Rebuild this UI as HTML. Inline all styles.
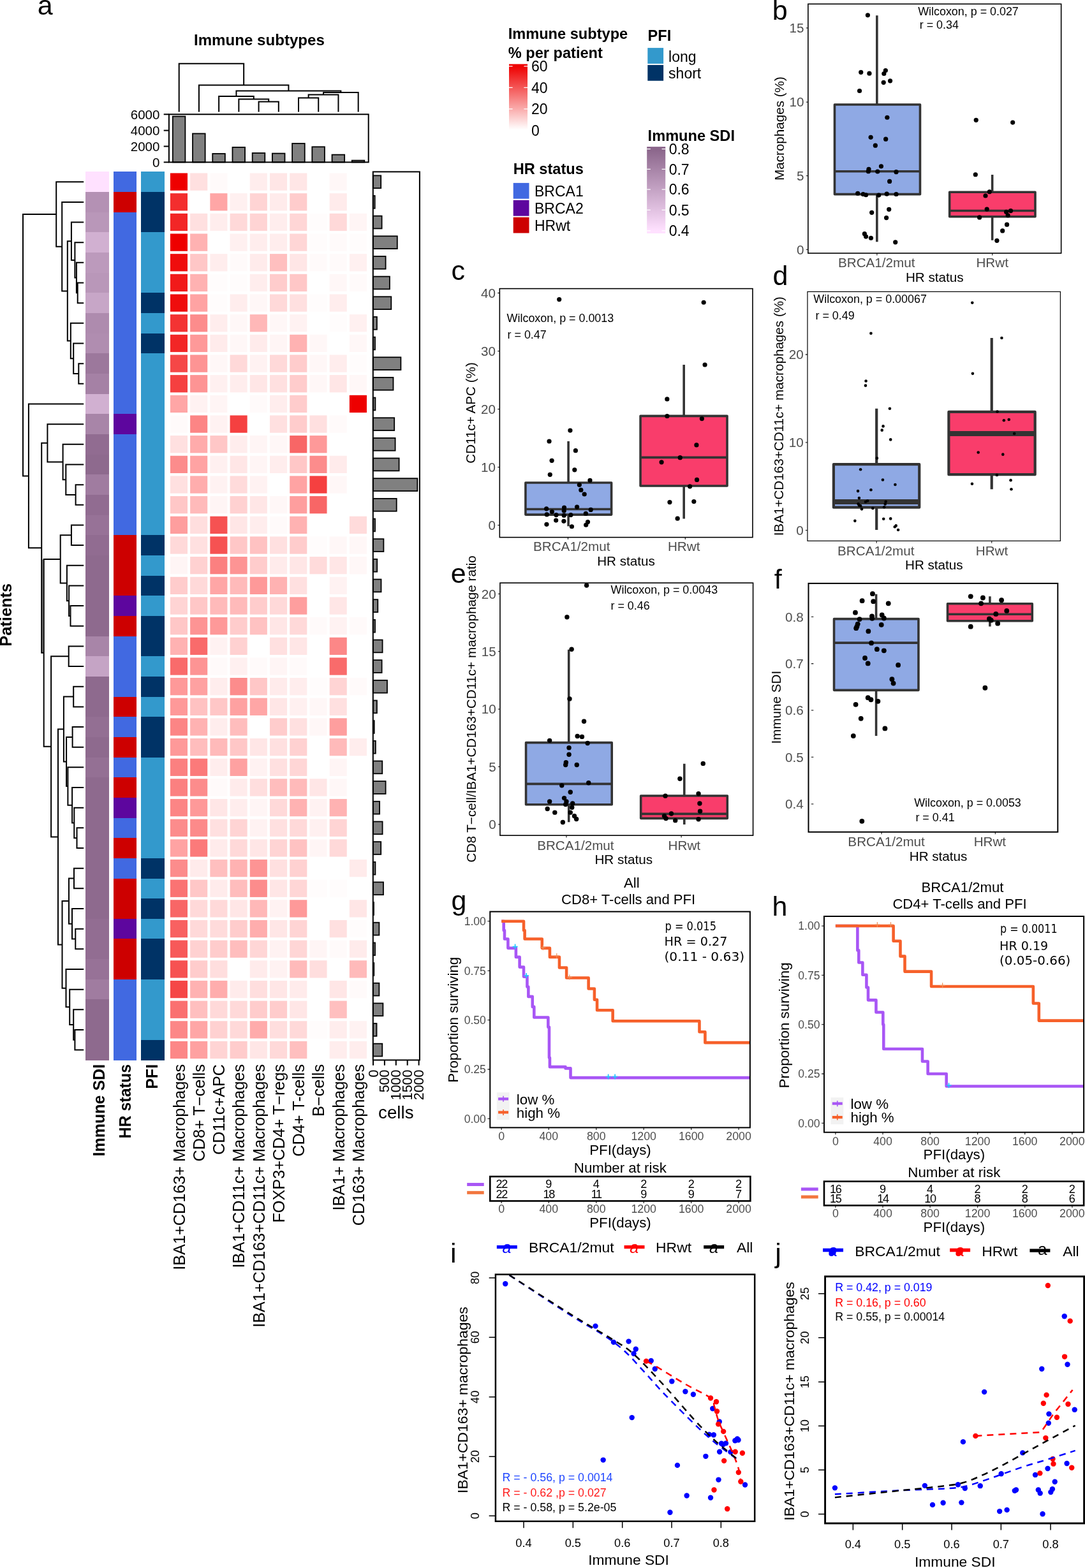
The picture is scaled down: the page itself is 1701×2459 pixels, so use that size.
<!DOCTYPE html>
<html lang="en">
<head>
<meta charset="utf-8">
<title>Immune subtypes figure</title>
<style>
html,body{margin:0;padding:0;background:#fff;}
body{width:1701px;height:2459px;}
svg{display:block;font-family:"Liberation Sans", Arial, Helvetica, sans-serif;}
svg text{white-space:pre;}
svg .dv{font-family:"DejaVu Sans","Liberation Sans",sans-serif;}
</style>
</head>
<body>
<svg width="1701" height="2459" viewBox="0 0 1701 2459">
<rect width="1701" height="2459" fill="#fff"/>
<g id="panel-a">
<text x="58.8" y="23" font-size="43">a</text>
<text x="304" y="71" font-size="24.1" font-weight="bold">Immune subtypes</text>
<text transform="translate(17.7 964.3) rotate(-90)" font-size="25.4" text-anchor="middle" font-weight="bold">Patients</text>
<path d="M405.58 175.6V159.4H436.8V175.6M374.36 175.6V155.4H421.19V159.4M343.14 175.6V151.1H397.77V155.4M468.02 175.6V153.4H499.24V175.6M483.63 153.4V148.4H530.46V175.6M507.05 148.4V144.9H561.68V175.6M370.46 151.1V142.4H534.36V144.9M311.92 175.6V133.6H452.41V142.4M280.7 175.6V99.7H382.16V133.6" fill="none" stroke="#000" stroke-width="2" stroke-linejoin="miter"/>
<rect x="270.8" y="182.5" width="19.6" height="71.9" fill="#808080" stroke="#000" stroke-width="1.8"/>
<rect x="302.02" y="209.5" width="19.6" height="44.9" fill="#808080" stroke="#000" stroke-width="1.8"/>
<rect x="333.24" y="241" width="19.6" height="13.4" fill="#808080" stroke="#000" stroke-width="1.8"/>
<rect x="364.46" y="231" width="19.6" height="23.4" fill="#808080" stroke="#000" stroke-width="1.8"/>
<rect x="395.68" y="240" width="19.6" height="14.4" fill="#808080" stroke="#000" stroke-width="1.8"/>
<rect x="426.9" y="240.6" width="19.6" height="13.8" fill="#808080" stroke="#000" stroke-width="1.8"/>
<rect x="458.12" y="225" width="19.6" height="29.4" fill="#808080" stroke="#000" stroke-width="1.8"/>
<rect x="489.34" y="230.3" width="19.6" height="24.1" fill="#808080" stroke="#000" stroke-width="1.8"/>
<rect x="520.56" y="242.6" width="19.6" height="11.8" fill="#808080" stroke="#000" stroke-width="1.8"/>
<rect x="551.78" y="251.6" width="19.6" height="2.8" fill="#808080" stroke="#000" stroke-width="1.8"/>
<rect x="264.9" y="179.3" width="312.8" height="75.1" fill="none" stroke="#000" stroke-width="2.0"/>
<path d="M256.7 179.3H264.9" stroke="#000" stroke-width="2.0"/>
<text x="250.4" y="187" font-size="20.5" text-anchor="end">6000</text>
<path d="M256.7 204.6H264.9" stroke="#000" stroke-width="2.0"/>
<text x="250.4" y="212.3" font-size="20.5" text-anchor="end">4000</text>
<path d="M256.7 229.5H264.9" stroke="#000" stroke-width="2.0"/>
<text x="250.4" y="237.2" font-size="20.5" text-anchor="end">2000</text>
<path d="M256.7 254.4H264.9" stroke="#000" stroke-width="2.0"/>
<text x="250.4" y="262.1" font-size="20.5" text-anchor="end">0</text>
<g shape-rendering="crispEdges">
<rect x="134.1" y="269.4" width="36.4" height="31.96" fill="#FFE1FF"/>
<rect x="134.1" y="301.06" width="36.4" height="31.96" fill="#B491B4"/>
<rect x="134.1" y="332.72" width="36.4" height="31.96" fill="#B997B9"/>
<rect x="134.1" y="364.38" width="36.4" height="31.96" fill="#D1B0D1"/>
<rect x="134.1" y="396.04" width="36.4" height="31.96" fill="#BC9ABC"/>
<rect x="134.1" y="427.7" width="36.4" height="31.96" fill="#B997B9"/>
<rect x="134.1" y="459.36" width="36.4" height="31.96" fill="#C7A6C7"/>
<rect x="134.1" y="491.02" width="36.4" height="31.96" fill="#AE8BAE"/>
<rect x="134.1" y="522.68" width="36.4" height="31.96" fill="#B08DB0"/>
<rect x="134.1" y="554.34" width="36.4" height="31.96" fill="#9C789C"/>
<rect x="134.1" y="586" width="36.4" height="31.96" fill="#A581A5"/>
<rect x="134.1" y="617.66" width="36.4" height="31.96" fill="#D1B0D1"/>
<rect x="134.1" y="649.32" width="36.4" height="31.96" fill="#A885A8"/>
<rect x="134.1" y="680.98" width="36.4" height="31.96" fill="#916C91"/>
<rect x="134.1" y="712.64" width="36.4" height="31.96" fill="#8E6A8E"/>
<rect x="134.1" y="744.3" width="36.4" height="31.96" fill="#A07CA0"/>
<rect x="134.1" y="775.96" width="36.4" height="31.96" fill="#916C91"/>
<rect x="134.1" y="807.62" width="36.4" height="31.96" fill="#977297"/>
<rect x="134.1" y="839.28" width="36.4" height="31.96" fill="#916C91"/>
<rect x="134.1" y="870.94" width="36.4" height="126.94" fill="#8E6A8E"/>
<rect x="134.1" y="997.58" width="36.4" height="31.96" fill="#A885A8"/>
<rect x="134.1" y="1029.24" width="36.4" height="31.96" fill="#C5A4C5"/>
<rect x="134.1" y="1060.9" width="36.4" height="63.62" fill="#8E6A8E"/>
<rect x="134.1" y="1124.22" width="36.4" height="31.96" fill="#936F93"/>
<rect x="134.1" y="1155.88" width="36.4" height="31.96" fill="#8E6A8E"/>
<rect x="134.1" y="1187.54" width="36.4" height="31.96" fill="#947094"/>
<rect x="134.1" y="1219.2" width="36.4" height="221.92" fill="#8E6A8E"/>
<rect x="134.1" y="1440.82" width="36.4" height="63.62" fill="#926D92"/>
<rect x="134.1" y="1504.14" width="36.4" height="31.96" fill="#977297"/>
<rect x="134.1" y="1535.8" width="36.4" height="31.96" fill="#A07CA0"/>
<rect x="134.1" y="1567.46" width="36.4" height="95.28" fill="#8E6A8E"/>
<rect x="177.5" y="269.4" width="36.8" height="31.96" fill="#4169E1"/>
<rect x="177.5" y="301.06" width="36.8" height="31.96" fill="#CD0000"/>
<rect x="177.5" y="332.72" width="36.8" height="316.9" fill="#4169E1"/>
<rect x="177.5" y="649.32" width="36.8" height="31.96" fill="#5D069E"/>
<rect x="177.5" y="680.98" width="36.8" height="158.6" fill="#4169E1"/>
<rect x="177.5" y="839.28" width="36.8" height="95.28" fill="#CD0000"/>
<rect x="177.5" y="934.26" width="36.8" height="31.96" fill="#5D069E"/>
<rect x="177.5" y="965.92" width="36.8" height="31.96" fill="#CD0000"/>
<rect x="177.5" y="997.58" width="36.8" height="95.28" fill="#4169E1"/>
<rect x="177.5" y="1092.56" width="36.8" height="31.96" fill="#CD0000"/>
<rect x="177.5" y="1124.22" width="36.8" height="31.96" fill="#4169E1"/>
<rect x="177.5" y="1155.88" width="36.8" height="31.96" fill="#CD0000"/>
<rect x="177.5" y="1187.54" width="36.8" height="31.96" fill="#4169E1"/>
<rect x="177.5" y="1219.2" width="36.8" height="31.96" fill="#CD0000"/>
<rect x="177.5" y="1250.86" width="36.8" height="31.96" fill="#5D069E"/>
<rect x="177.5" y="1282.52" width="36.8" height="31.96" fill="#4169E1"/>
<rect x="177.5" y="1314.18" width="36.8" height="31.96" fill="#CD0000"/>
<rect x="177.5" y="1345.84" width="36.8" height="31.96" fill="#4169E1"/>
<rect x="177.5" y="1377.5" width="36.8" height="63.62" fill="#CD0000"/>
<rect x="177.5" y="1440.82" width="36.8" height="31.96" fill="#5D069E"/>
<rect x="177.5" y="1472.48" width="36.8" height="63.62" fill="#CD0000"/>
<rect x="177.5" y="1535.8" width="36.8" height="126.94" fill="#4169E1"/>
<rect x="221" y="269.4" width="36.7" height="31.96" fill="#3399CC"/>
<rect x="221" y="301.06" width="36.7" height="63.62" fill="#003366"/>
<rect x="221" y="364.38" width="36.7" height="95.28" fill="#3399CC"/>
<rect x="221" y="459.36" width="36.7" height="31.96" fill="#003366"/>
<rect x="221" y="491.02" width="36.7" height="31.96" fill="#3399CC"/>
<rect x="221" y="522.68" width="36.7" height="31.96" fill="#003366"/>
<rect x="221" y="554.34" width="36.7" height="285.24" fill="#3399CC"/>
<rect x="221" y="839.28" width="36.7" height="31.96" fill="#003366"/>
<rect x="221" y="870.94" width="36.7" height="31.96" fill="#3399CC"/>
<rect x="221" y="902.6" width="36.7" height="31.96" fill="#003366"/>
<rect x="221" y="934.26" width="36.7" height="31.96" fill="#3399CC"/>
<rect x="221" y="965.92" width="36.7" height="63.62" fill="#003366"/>
<rect x="221" y="1029.24" width="36.7" height="31.96" fill="#3399CC"/>
<rect x="221" y="1060.9" width="36.7" height="31.96" fill="#003366"/>
<rect x="221" y="1092.56" width="36.7" height="31.96" fill="#3399CC"/>
<rect x="221" y="1124.22" width="36.7" height="63.62" fill="#003366"/>
<rect x="221" y="1187.54" width="36.7" height="158.6" fill="#3399CC"/>
<rect x="221" y="1345.84" width="36.7" height="31.96" fill="#003366"/>
<rect x="221" y="1377.5" width="36.7" height="31.96" fill="#3399CC"/>
<rect x="221" y="1409.16" width="36.7" height="31.96" fill="#003366"/>
<rect x="221" y="1440.82" width="36.7" height="31.96" fill="#3399CC"/>
<rect x="221" y="1472.48" width="36.7" height="63.62" fill="#003366"/>
<rect x="221" y="1535.8" width="36.7" height="95.28" fill="#3399CC"/>
<rect x="221" y="1630.78" width="36.7" height="31.96" fill="#003366"/>
</g>
<g>
<rect x="266.9" y="271.5" width="27.1" height="27.3" fill="#EE0000"/>
<rect x="298.12" y="271.5" width="27.1" height="27.3" fill="#FFE0E0"/>
<rect x="329.34" y="271.5" width="27.1" height="27.3" fill="#FFFAFA"/>
<rect x="391.78" y="271.5" width="27.1" height="27.3" fill="#FFEDED"/>
<rect x="423" y="271.5" width="27.1" height="27.3" fill="#FFE6E6"/>
<rect x="454.22" y="271.5" width="27.1" height="27.3" fill="#FFE6E6"/>
<rect x="516.66" y="271.5" width="27.1" height="27.3" fill="#FFF7F7"/>
<rect x="266.9" y="303.16" width="27.1" height="27.3" fill="#F32E2E"/>
<rect x="329.34" y="303.16" width="27.1" height="27.3" fill="#FFA6A6"/>
<rect x="360.56" y="303.16" width="27.1" height="27.3" fill="#FFF0F0"/>
<rect x="391.78" y="303.16" width="27.1" height="27.3" fill="#FFD4D4"/>
<rect x="423" y="303.16" width="27.1" height="27.3" fill="#FFEBEB"/>
<rect x="454.22" y="303.16" width="27.1" height="27.3" fill="#FFCCCC"/>
<rect x="516.66" y="303.16" width="27.1" height="27.3" fill="#FFEBEB"/>
<rect x="266.9" y="334.82" width="27.1" height="27.3" fill="#F22626"/>
<rect x="298.12" y="334.82" width="27.1" height="27.3" fill="#FFE0E0"/>
<rect x="329.34" y="334.82" width="27.1" height="27.3" fill="#FFEDED"/>
<rect x="360.56" y="334.82" width="27.1" height="27.3" fill="#FFD9D9"/>
<rect x="391.78" y="334.82" width="27.1" height="27.3" fill="#FFD4D4"/>
<rect x="423" y="334.82" width="27.1" height="27.3" fill="#FFEDED"/>
<rect x="454.22" y="334.82" width="27.1" height="27.3" fill="#FFD6D6"/>
<rect x="485.44" y="334.82" width="27.1" height="27.3" fill="#FFFCFC"/>
<rect x="516.66" y="334.82" width="27.1" height="27.3" fill="#FFD9D9"/>
<rect x="547.88" y="334.82" width="27.1" height="27.3" fill="#FFF5F5"/>
<rect x="266.9" y="366.48" width="27.1" height="27.3" fill="#EE0000"/>
<rect x="298.12" y="366.48" width="27.1" height="27.3" fill="#FFB2B2"/>
<rect x="360.56" y="366.48" width="27.1" height="27.3" fill="#FFF0F0"/>
<rect x="391.78" y="366.48" width="27.1" height="27.3" fill="#FFEDED"/>
<rect x="423" y="366.48" width="27.1" height="27.3" fill="#FFEDED"/>
<rect x="454.22" y="366.48" width="27.1" height="27.3" fill="#FFD6D6"/>
<rect x="485.44" y="366.48" width="27.1" height="27.3" fill="#FFFCFC"/>
<rect x="516.66" y="366.48" width="27.1" height="27.3" fill="#FFFAFA"/>
<rect x="547.88" y="366.48" width="27.1" height="27.3" fill="#FFFCFC"/>
<rect x="266.9" y="398.14" width="27.1" height="27.3" fill="#EF0D0D"/>
<rect x="298.12" y="398.14" width="27.1" height="27.3" fill="#FFC7C7"/>
<rect x="329.34" y="398.14" width="27.1" height="27.3" fill="#FFEDED"/>
<rect x="360.56" y="398.14" width="27.1" height="27.3" fill="#FFFAFA"/>
<rect x="391.78" y="398.14" width="27.1" height="27.3" fill="#FFEBEB"/>
<rect x="423" y="398.14" width="27.1" height="27.3" fill="#FFBFBF"/>
<rect x="454.22" y="398.14" width="27.1" height="27.3" fill="#FFE6E6"/>
<rect x="485.44" y="398.14" width="27.1" height="27.3" fill="#FFFAFA"/>
<rect x="516.66" y="398.14" width="27.1" height="27.3" fill="#FFFAFA"/>
<rect x="547.88" y="398.14" width="27.1" height="27.3" fill="#FFF0F0"/>
<rect x="266.9" y="429.8" width="27.1" height="27.3" fill="#F11A1A"/>
<rect x="298.12" y="429.8" width="27.1" height="27.3" fill="#FFB2B2"/>
<rect x="329.34" y="429.8" width="27.1" height="27.3" fill="#FFFCFC"/>
<rect x="360.56" y="429.8" width="27.1" height="27.3" fill="#FFFCFC"/>
<rect x="391.78" y="429.8" width="27.1" height="27.3" fill="#FFEDED"/>
<rect x="423" y="429.8" width="27.1" height="27.3" fill="#FFCCCC"/>
<rect x="454.22" y="429.8" width="27.1" height="27.3" fill="#FFC7C7"/>
<rect x="516.66" y="429.8" width="27.1" height="27.3" fill="#FFF7F7"/>
<rect x="547.88" y="429.8" width="27.1" height="27.3" fill="#FFFAFA"/>
<rect x="266.9" y="461.46" width="27.1" height="27.3" fill="#EF0D0D"/>
<rect x="298.12" y="461.46" width="27.1" height="27.3" fill="#FFA3A3"/>
<rect x="329.34" y="461.46" width="27.1" height="27.3" fill="#FFFCFC"/>
<rect x="360.56" y="461.46" width="27.1" height="27.3" fill="#FFEDED"/>
<rect x="391.78" y="461.46" width="27.1" height="27.3" fill="#FFF7F7"/>
<rect x="423" y="461.46" width="27.1" height="27.3" fill="#FFD9D9"/>
<rect x="454.22" y="461.46" width="27.1" height="27.3" fill="#FFE0E0"/>
<rect x="485.44" y="461.46" width="27.1" height="27.3" fill="#FFFCFC"/>
<rect x="516.66" y="461.46" width="27.1" height="27.3" fill="#FFEDED"/>
<rect x="266.9" y="493.12" width="27.1" height="27.3" fill="#F33333"/>
<rect x="298.12" y="493.12" width="27.1" height="27.3" fill="#FC8C8C"/>
<rect x="329.34" y="493.12" width="27.1" height="27.3" fill="#FFEDED"/>
<rect x="360.56" y="493.12" width="27.1" height="27.3" fill="#FFF7F7"/>
<rect x="391.78" y="493.12" width="27.1" height="27.3" fill="#FFB8B8"/>
<rect x="423" y="493.12" width="27.1" height="27.3" fill="#FFF7F7"/>
<rect x="454.22" y="493.12" width="27.1" height="27.3" fill="#FFF2F2"/>
<rect x="516.66" y="493.12" width="27.1" height="27.3" fill="#FFFCFC"/>
<rect x="547.88" y="493.12" width="27.1" height="27.3" fill="#FFF0F0"/>
<rect x="266.9" y="524.78" width="27.1" height="27.3" fill="#F22626"/>
<rect x="298.12" y="524.78" width="27.1" height="27.3" fill="#FE9999"/>
<rect x="329.34" y="524.78" width="27.1" height="27.3" fill="#FFEBEB"/>
<rect x="360.56" y="524.78" width="27.1" height="27.3" fill="#FFF7F7"/>
<rect x="391.78" y="524.78" width="27.1" height="27.3" fill="#FFEBEB"/>
<rect x="423" y="524.78" width="27.1" height="27.3" fill="#FFF5F5"/>
<rect x="454.22" y="524.78" width="27.1" height="27.3" fill="#FFB2B2"/>
<rect x="485.44" y="524.78" width="27.1" height="27.3" fill="#FFF7F7"/>
<rect x="547.88" y="524.78" width="27.1" height="27.3" fill="#FFF7F7"/>
<rect x="266.9" y="556.44" width="27.1" height="27.3" fill="#F54747"/>
<rect x="298.12" y="556.44" width="27.1" height="27.3" fill="#FD9494"/>
<rect x="329.34" y="556.44" width="27.1" height="27.3" fill="#FFF7F7"/>
<rect x="360.56" y="556.44" width="27.1" height="27.3" fill="#FFD9D9"/>
<rect x="391.78" y="556.44" width="27.1" height="27.3" fill="#FFF2F2"/>
<rect x="423" y="556.44" width="27.1" height="27.3" fill="#FFD9D9"/>
<rect x="454.22" y="556.44" width="27.1" height="27.3" fill="#FFCCCC"/>
<rect x="485.44" y="556.44" width="27.1" height="27.3" fill="#FFF7F7"/>
<rect x="516.66" y="556.44" width="27.1" height="27.3" fill="#FFEDED"/>
<rect x="547.88" y="556.44" width="27.1" height="27.3" fill="#FFFCFC"/>
<rect x="266.9" y="588.1" width="27.1" height="27.3" fill="#F54040"/>
<rect x="298.12" y="588.1" width="27.1" height="27.3" fill="#FD9494"/>
<rect x="329.34" y="588.1" width="27.1" height="27.3" fill="#FFF0F0"/>
<rect x="360.56" y="588.1" width="27.1" height="27.3" fill="#FFEDED"/>
<rect x="391.78" y="588.1" width="27.1" height="27.3" fill="#FFE6E6"/>
<rect x="423" y="588.1" width="27.1" height="27.3" fill="#FFE0E0"/>
<rect x="454.22" y="588.1" width="27.1" height="27.3" fill="#FFCCCC"/>
<rect x="485.44" y="588.1" width="27.1" height="27.3" fill="#FFF7F7"/>
<rect x="516.66" y="588.1" width="27.1" height="27.3" fill="#FFE6E6"/>
<rect x="547.88" y="588.1" width="27.1" height="27.3" fill="#FFF7F7"/>
<rect x="266.9" y="619.76" width="27.1" height="27.3" fill="#FFA6A6"/>
<rect x="298.12" y="619.76" width="27.1" height="27.3" fill="#FFF2F2"/>
<rect x="329.34" y="619.76" width="27.1" height="27.3" fill="#FFF5F5"/>
<rect x="391.78" y="619.76" width="27.1" height="27.3" fill="#FFFAFA"/>
<rect x="423" y="619.76" width="27.1" height="27.3" fill="#FFEDED"/>
<rect x="454.22" y="619.76" width="27.1" height="27.3" fill="#FFCCCC"/>
<rect x="547.88" y="619.76" width="27.1" height="27.3" fill="#EE0000"/>
<rect x="266.9" y="651.42" width="27.1" height="27.3" fill="#FFFAFA"/>
<rect x="298.12" y="651.42" width="27.1" height="27.3" fill="#FC8585"/>
<rect x="329.34" y="651.42" width="27.1" height="27.3" fill="#FFF2F2"/>
<rect x="360.56" y="651.42" width="27.1" height="27.3" fill="#F54040"/>
<rect x="423" y="651.42" width="27.1" height="27.3" fill="#FFE0E0"/>
<rect x="454.22" y="651.42" width="27.1" height="27.3" fill="#FFCCCC"/>
<rect x="485.44" y="651.42" width="27.1" height="27.3" fill="#FFE0E0"/>
<rect x="516.66" y="651.42" width="27.1" height="27.3" fill="#FFFAFA"/>
<rect x="266.9" y="683.08" width="27.1" height="27.3" fill="#FFE0E0"/>
<rect x="298.12" y="683.08" width="27.1" height="27.3" fill="#FFABAB"/>
<rect x="329.34" y="683.08" width="27.1" height="27.3" fill="#FFC7C7"/>
<rect x="360.56" y="683.08" width="27.1" height="27.3" fill="#FFEDED"/>
<rect x="391.78" y="683.08" width="27.1" height="27.3" fill="#FFF5F5"/>
<rect x="423" y="683.08" width="27.1" height="27.3" fill="#FFF7F7"/>
<rect x="454.22" y="683.08" width="27.1" height="27.3" fill="#F86666"/>
<rect x="485.44" y="683.08" width="27.1" height="27.3" fill="#FE9999"/>
<rect x="266.9" y="714.74" width="27.1" height="27.3" fill="#FC8C8C"/>
<rect x="298.12" y="714.74" width="27.1" height="27.3" fill="#FFA3A3"/>
<rect x="329.34" y="714.74" width="27.1" height="27.3" fill="#FFF0F0"/>
<rect x="360.56" y="714.74" width="27.1" height="27.3" fill="#FFE6E6"/>
<rect x="391.78" y="714.74" width="27.1" height="27.3" fill="#FFF5F5"/>
<rect x="423" y="714.74" width="27.1" height="27.3" fill="#FFEDED"/>
<rect x="454.22" y="714.74" width="27.1" height="27.3" fill="#FFC7C7"/>
<rect x="485.44" y="714.74" width="27.1" height="27.3" fill="#FC8C8C"/>
<rect x="516.66" y="714.74" width="27.1" height="27.3" fill="#FFEBEB"/>
<rect x="266.9" y="746.4" width="27.1" height="27.3" fill="#FFE0E0"/>
<rect x="298.12" y="746.4" width="27.1" height="27.3" fill="#FFADAD"/>
<rect x="329.34" y="746.4" width="27.1" height="27.3" fill="#FFF2F2"/>
<rect x="360.56" y="746.4" width="27.1" height="27.3" fill="#FFDBDB"/>
<rect x="391.78" y="746.4" width="27.1" height="27.3" fill="#FFF2F2"/>
<rect x="454.22" y="746.4" width="27.1" height="27.3" fill="#FFA3A3"/>
<rect x="485.44" y="746.4" width="27.1" height="27.3" fill="#F54040"/>
<rect x="516.66" y="746.4" width="27.1" height="27.3" fill="#FFF7F7"/>
<rect x="266.9" y="778.06" width="27.1" height="27.3" fill="#FFC7C7"/>
<rect x="298.12" y="778.06" width="27.1" height="27.3" fill="#FFBABA"/>
<rect x="329.34" y="778.06" width="27.1" height="27.3" fill="#FFF5F5"/>
<rect x="360.56" y="778.06" width="27.1" height="27.3" fill="#FFD1D1"/>
<rect x="391.78" y="778.06" width="27.1" height="27.3" fill="#FFE6E6"/>
<rect x="423" y="778.06" width="27.1" height="27.3" fill="#FFF7F7"/>
<rect x="454.22" y="778.06" width="27.1" height="27.3" fill="#FE9E9E"/>
<rect x="485.44" y="778.06" width="27.1" height="27.3" fill="#F86666"/>
<rect x="266.9" y="809.72" width="27.1" height="27.3" fill="#FE9E9E"/>
<rect x="298.12" y="809.72" width="27.1" height="27.3" fill="#FFDEDE"/>
<rect x="329.34" y="809.72" width="27.1" height="27.3" fill="#F65252"/>
<rect x="360.56" y="809.72" width="27.1" height="27.3" fill="#FFE6E6"/>
<rect x="391.78" y="809.72" width="27.1" height="27.3" fill="#FFEDED"/>
<rect x="423" y="809.72" width="27.1" height="27.3" fill="#FFFAFA"/>
<rect x="454.22" y="809.72" width="27.1" height="27.3" fill="#FFB2B2"/>
<rect x="547.88" y="809.72" width="27.1" height="27.3" fill="#FFDBDB"/>
<rect x="266.9" y="841.38" width="27.1" height="27.3" fill="#FFD9D9"/>
<rect x="298.12" y="841.38" width="27.1" height="27.3" fill="#FFE0E0"/>
<rect x="329.34" y="841.38" width="27.1" height="27.3" fill="#F65252"/>
<rect x="360.56" y="841.38" width="27.1" height="27.3" fill="#FFC7C7"/>
<rect x="391.78" y="841.38" width="27.1" height="27.3" fill="#FFC2C2"/>
<rect x="423" y="841.38" width="27.1" height="27.3" fill="#FFE0E0"/>
<rect x="454.22" y="841.38" width="27.1" height="27.3" fill="#FFCCCC"/>
<rect x="485.44" y="841.38" width="27.1" height="27.3" fill="#FFFCFC"/>
<rect x="516.66" y="841.38" width="27.1" height="27.3" fill="#FFF7F7"/>
<rect x="547.88" y="841.38" width="27.1" height="27.3" fill="#FFF7F7"/>
<rect x="266.9" y="873.04" width="27.1" height="27.3" fill="#FFF5F5"/>
<rect x="298.12" y="873.04" width="27.1" height="27.3" fill="#FFD1D1"/>
<rect x="329.34" y="873.04" width="27.1" height="27.3" fill="#FB8080"/>
<rect x="360.56" y="873.04" width="27.1" height="27.3" fill="#FD9494"/>
<rect x="391.78" y="873.04" width="27.1" height="27.3" fill="#FFCCCC"/>
<rect x="423" y="873.04" width="27.1" height="27.3" fill="#FFEBEB"/>
<rect x="454.22" y="873.04" width="27.1" height="27.3" fill="#FFE6E6"/>
<rect x="485.44" y="873.04" width="27.1" height="27.3" fill="#FFDBDB"/>
<rect x="516.66" y="873.04" width="27.1" height="27.3" fill="#FFE6E6"/>
<rect x="547.88" y="873.04" width="27.1" height="27.3" fill="#FFF7F7"/>
<rect x="266.9" y="904.7" width="27.1" height="27.3" fill="#FFCCCC"/>
<rect x="298.12" y="904.7" width="27.1" height="27.3" fill="#FFD9D9"/>
<rect x="329.34" y="904.7" width="27.1" height="27.3" fill="#FFA6A6"/>
<rect x="360.56" y="904.7" width="27.1" height="27.3" fill="#FFBABA"/>
<rect x="391.78" y="904.7" width="27.1" height="27.3" fill="#FE9999"/>
<rect x="423" y="904.7" width="27.1" height="27.3" fill="#FFB2B2"/>
<rect x="454.22" y="904.7" width="27.1" height="27.3" fill="#FFE0E0"/>
<rect x="516.66" y="904.7" width="27.1" height="27.3" fill="#FFF2F2"/>
<rect x="266.9" y="936.36" width="27.1" height="27.3" fill="#FFD4D4"/>
<rect x="298.12" y="936.36" width="27.1" height="27.3" fill="#FFC7C7"/>
<rect x="329.34" y="936.36" width="27.1" height="27.3" fill="#FFBABA"/>
<rect x="360.56" y="936.36" width="27.1" height="27.3" fill="#FFBABA"/>
<rect x="391.78" y="936.36" width="27.1" height="27.3" fill="#FFCCCC"/>
<rect x="423" y="936.36" width="27.1" height="27.3" fill="#FFD9D9"/>
<rect x="454.22" y="936.36" width="27.1" height="27.3" fill="#FE9E9E"/>
<rect x="516.66" y="936.36" width="27.1" height="27.3" fill="#FFE6E6"/>
<rect x="266.9" y="968.02" width="27.1" height="27.3" fill="#FFC7C7"/>
<rect x="298.12" y="968.02" width="27.1" height="27.3" fill="#FD9494"/>
<rect x="329.34" y="968.02" width="27.1" height="27.3" fill="#FE9999"/>
<rect x="360.56" y="968.02" width="27.1" height="27.3" fill="#FFCCCC"/>
<rect x="391.78" y="968.02" width="27.1" height="27.3" fill="#FFC2C2"/>
<rect x="423" y="968.02" width="27.1" height="27.3" fill="#FFE6E6"/>
<rect x="454.22" y="968.02" width="27.1" height="27.3" fill="#FFD9D9"/>
<rect x="485.44" y="968.02" width="27.1" height="27.3" fill="#FFFAFA"/>
<rect x="516.66" y="968.02" width="27.1" height="27.3" fill="#FFF2F2"/>
<rect x="547.88" y="968.02" width="27.1" height="27.3" fill="#FFFAFA"/>
<rect x="266.9" y="999.68" width="27.1" height="27.3" fill="#FFB2B2"/>
<rect x="298.12" y="999.68" width="27.1" height="27.3" fill="#F96B6B"/>
<rect x="329.34" y="999.68" width="27.1" height="27.3" fill="#FFF2F2"/>
<rect x="360.56" y="999.68" width="27.1" height="27.3" fill="#FFD1D1"/>
<rect x="423" y="999.68" width="27.1" height="27.3" fill="#FFE0E0"/>
<rect x="454.22" y="999.68" width="27.1" height="27.3" fill="#FFE6E6"/>
<rect x="516.66" y="999.68" width="27.1" height="27.3" fill="#FC8787"/>
<rect x="266.9" y="1031.34" width="27.1" height="27.3" fill="#F96B6B"/>
<rect x="298.12" y="1031.34" width="27.1" height="27.3" fill="#FD9494"/>
<rect x="329.34" y="1031.34" width="27.1" height="27.3" fill="#FFFAFA"/>
<rect x="360.56" y="1031.34" width="27.1" height="27.3" fill="#FFF0F0"/>
<rect x="391.78" y="1031.34" width="27.1" height="27.3" fill="#FFFAFA"/>
<rect x="423" y="1031.34" width="27.1" height="27.3" fill="#FFF5F5"/>
<rect x="454.22" y="1031.34" width="27.1" height="27.3" fill="#FFFAFA"/>
<rect x="516.66" y="1031.34" width="27.1" height="27.3" fill="#F96B6B"/>
<rect x="266.9" y="1063" width="27.1" height="27.3" fill="#FE9999"/>
<rect x="298.12" y="1063" width="27.1" height="27.3" fill="#FEA1A1"/>
<rect x="329.34" y="1063" width="27.1" height="27.3" fill="#FFEDED"/>
<rect x="360.56" y="1063" width="27.1" height="27.3" fill="#FC8C8C"/>
<rect x="391.78" y="1063" width="27.1" height="27.3" fill="#FFC7C7"/>
<rect x="423" y="1063" width="27.1" height="27.3" fill="#FFEBEB"/>
<rect x="454.22" y="1063" width="27.1" height="27.3" fill="#FFEDED"/>
<rect x="485.44" y="1063" width="27.1" height="27.3" fill="#FFFCFC"/>
<rect x="516.66" y="1063" width="27.1" height="27.3" fill="#FFD4D4"/>
<rect x="547.88" y="1063" width="27.1" height="27.3" fill="#FFFAFA"/>
<rect x="266.9" y="1094.66" width="27.1" height="27.3" fill="#FE9999"/>
<rect x="298.12" y="1094.66" width="27.1" height="27.3" fill="#FFC2C2"/>
<rect x="329.34" y="1094.66" width="27.1" height="27.3" fill="#FFC7C7"/>
<rect x="360.56" y="1094.66" width="27.1" height="27.3" fill="#FEA1A1"/>
<rect x="391.78" y="1094.66" width="27.1" height="27.3" fill="#FFA6A6"/>
<rect x="423" y="1094.66" width="27.1" height="27.3" fill="#FFE6E6"/>
<rect x="454.22" y="1094.66" width="27.1" height="27.3" fill="#FFF0F0"/>
<rect x="485.44" y="1094.66" width="27.1" height="27.3" fill="#FFF7F7"/>
<rect x="516.66" y="1094.66" width="27.1" height="27.3" fill="#FFE0E0"/>
<rect x="266.9" y="1126.32" width="27.1" height="27.3" fill="#FC8585"/>
<rect x="298.12" y="1126.32" width="27.1" height="27.3" fill="#FFB2B2"/>
<rect x="329.34" y="1126.32" width="27.1" height="27.3" fill="#FFEDED"/>
<rect x="360.56" y="1126.32" width="27.1" height="27.3" fill="#FFBDBD"/>
<rect x="423" y="1126.32" width="27.1" height="27.3" fill="#FFCCCC"/>
<rect x="454.22" y="1126.32" width="27.1" height="27.3" fill="#FFE0E0"/>
<rect x="485.44" y="1126.32" width="27.1" height="27.3" fill="#FFF7F7"/>
<rect x="516.66" y="1126.32" width="27.1" height="27.3" fill="#FE9E9E"/>
<rect x="266.9" y="1157.98" width="27.1" height="27.3" fill="#FE9999"/>
<rect x="298.12" y="1157.98" width="27.1" height="27.3" fill="#FFBDBD"/>
<rect x="329.34" y="1157.98" width="27.1" height="27.3" fill="#FFBABA"/>
<rect x="360.56" y="1157.98" width="27.1" height="27.3" fill="#FFC7C7"/>
<rect x="391.78" y="1157.98" width="27.1" height="27.3" fill="#FFE6E6"/>
<rect x="423" y="1157.98" width="27.1" height="27.3" fill="#FFE0E0"/>
<rect x="454.22" y="1157.98" width="27.1" height="27.3" fill="#FFD1D1"/>
<rect x="516.66" y="1157.98" width="27.1" height="27.3" fill="#FFBABA"/>
<rect x="547.88" y="1157.98" width="27.1" height="27.3" fill="#FFEDED"/>
<rect x="266.9" y="1189.64" width="27.1" height="27.3" fill="#FB8080"/>
<rect x="298.12" y="1189.64" width="27.1" height="27.3" fill="#FB7A7A"/>
<rect x="329.34" y="1189.64" width="27.1" height="27.3" fill="#FFEDED"/>
<rect x="360.56" y="1189.64" width="27.1" height="27.3" fill="#FEA1A1"/>
<rect x="391.78" y="1189.64" width="27.1" height="27.3" fill="#FFF2F2"/>
<rect x="423" y="1189.64" width="27.1" height="27.3" fill="#FFE0E0"/>
<rect x="454.22" y="1189.64" width="27.1" height="27.3" fill="#FFD6D6"/>
<rect x="516.66" y="1189.64" width="27.1" height="27.3" fill="#FFF5F5"/>
<rect x="266.9" y="1221.3" width="27.1" height="27.3" fill="#FB8080"/>
<rect x="298.12" y="1221.3" width="27.1" height="27.3" fill="#FC8C8C"/>
<rect x="329.34" y="1221.3" width="27.1" height="27.3" fill="#FFFAFA"/>
<rect x="360.56" y="1221.3" width="27.1" height="27.3" fill="#FFEBEB"/>
<rect x="391.78" y="1221.3" width="27.1" height="27.3" fill="#FFDEDE"/>
<rect x="423" y="1221.3" width="27.1" height="27.3" fill="#FFBDBD"/>
<rect x="454.22" y="1221.3" width="27.1" height="27.3" fill="#FFBABA"/>
<rect x="485.44" y="1221.3" width="27.1" height="27.3" fill="#FFE6E6"/>
<rect x="516.66" y="1221.3" width="27.1" height="27.3" fill="#FFF7F7"/>
<rect x="266.9" y="1252.96" width="27.1" height="27.3" fill="#FC8585"/>
<rect x="298.12" y="1252.96" width="27.1" height="27.3" fill="#FE9999"/>
<rect x="329.34" y="1252.96" width="27.1" height="27.3" fill="#FFE6E6"/>
<rect x="360.56" y="1252.96" width="27.1" height="27.3" fill="#FFEDED"/>
<rect x="391.78" y="1252.96" width="27.1" height="27.3" fill="#FFF5F5"/>
<rect x="423" y="1252.96" width="27.1" height="27.3" fill="#FFD9D9"/>
<rect x="454.22" y="1252.96" width="27.1" height="27.3" fill="#FFB2B2"/>
<rect x="485.44" y="1252.96" width="27.1" height="27.3" fill="#FFF2F2"/>
<rect x="516.66" y="1252.96" width="27.1" height="27.3" fill="#FFB2B2"/>
<rect x="266.9" y="1284.62" width="27.1" height="27.3" fill="#FC8C8C"/>
<rect x="298.12" y="1284.62" width="27.1" height="27.3" fill="#FC8A8A"/>
<rect x="329.34" y="1284.62" width="27.1" height="27.3" fill="#FFE0E0"/>
<rect x="360.56" y="1284.62" width="27.1" height="27.3" fill="#FFD4D4"/>
<rect x="391.78" y="1284.62" width="27.1" height="27.3" fill="#FFF2F2"/>
<rect x="423" y="1284.62" width="27.1" height="27.3" fill="#FFE0E0"/>
<rect x="454.22" y="1284.62" width="27.1" height="27.3" fill="#FFD9D9"/>
<rect x="485.44" y="1284.62" width="27.1" height="27.3" fill="#FFF0F0"/>
<rect x="516.66" y="1284.62" width="27.1" height="27.3" fill="#FFD4D4"/>
<rect x="266.9" y="1316.28" width="27.1" height="27.3" fill="#FFA3A3"/>
<rect x="298.12" y="1316.28" width="27.1" height="27.3" fill="#FB7A7A"/>
<rect x="329.34" y="1316.28" width="27.1" height="27.3" fill="#FFEBEB"/>
<rect x="360.56" y="1316.28" width="27.1" height="27.3" fill="#FFD9D9"/>
<rect x="391.78" y="1316.28" width="27.1" height="27.3" fill="#FFE6E6"/>
<rect x="423" y="1316.28" width="27.1" height="27.3" fill="#FFD4D4"/>
<rect x="454.22" y="1316.28" width="27.1" height="27.3" fill="#FFC2C2"/>
<rect x="485.44" y="1316.28" width="27.1" height="27.3" fill="#FFF5F5"/>
<rect x="516.66" y="1316.28" width="27.1" height="27.3" fill="#FFD9D9"/>
<rect x="266.9" y="1347.94" width="27.1" height="27.3" fill="#FC8C8C"/>
<rect x="298.12" y="1347.94" width="27.1" height="27.3" fill="#FFEBEB"/>
<rect x="329.34" y="1347.94" width="27.1" height="27.3" fill="#FFBFBF"/>
<rect x="360.56" y="1347.94" width="27.1" height="27.3" fill="#FFB2B2"/>
<rect x="391.78" y="1347.94" width="27.1" height="27.3" fill="#FD9494"/>
<rect x="423" y="1347.94" width="27.1" height="27.3" fill="#FFE0E0"/>
<rect x="454.22" y="1347.94" width="27.1" height="27.3" fill="#FFD1D1"/>
<rect x="547.88" y="1347.94" width="27.1" height="27.3" fill="#FFEBEB"/>
<rect x="266.9" y="1379.6" width="27.1" height="27.3" fill="#FA7373"/>
<rect x="298.12" y="1379.6" width="27.1" height="27.3" fill="#FFC7C7"/>
<rect x="329.34" y="1379.6" width="27.1" height="27.3" fill="#FFEBEB"/>
<rect x="360.56" y="1379.6" width="27.1" height="27.3" fill="#FFBDBD"/>
<rect x="391.78" y="1379.6" width="27.1" height="27.3" fill="#FC8C8C"/>
<rect x="423" y="1379.6" width="27.1" height="27.3" fill="#FFE6E6"/>
<rect x="454.22" y="1379.6" width="27.1" height="27.3" fill="#FFD6D6"/>
<rect x="485.44" y="1379.6" width="27.1" height="27.3" fill="#FFFCFC"/>
<rect x="516.66" y="1379.6" width="27.1" height="27.3" fill="#FFFCFC"/>
<rect x="266.9" y="1411.26" width="27.1" height="27.3" fill="#F86666"/>
<rect x="298.12" y="1411.26" width="27.1" height="27.3" fill="#FFD9D9"/>
<rect x="329.34" y="1411.26" width="27.1" height="27.3" fill="#FFD9D9"/>
<rect x="360.56" y="1411.26" width="27.1" height="27.3" fill="#FFE6E6"/>
<rect x="391.78" y="1411.26" width="27.1" height="27.3" fill="#FFB8B8"/>
<rect x="423" y="1411.26" width="27.1" height="27.3" fill="#FFF2F2"/>
<rect x="454.22" y="1411.26" width="27.1" height="27.3" fill="#FE9999"/>
<rect x="547.88" y="1411.26" width="27.1" height="27.3" fill="#FFE6E6"/>
<rect x="266.9" y="1442.92" width="27.1" height="27.3" fill="#F86161"/>
<rect x="298.12" y="1442.92" width="27.1" height="27.3" fill="#FFD9D9"/>
<rect x="329.34" y="1442.92" width="27.1" height="27.3" fill="#FFDBDB"/>
<rect x="360.56" y="1442.92" width="27.1" height="27.3" fill="#FFCCCC"/>
<rect x="391.78" y="1442.92" width="27.1" height="27.3" fill="#FFADAD"/>
<rect x="423" y="1442.92" width="27.1" height="27.3" fill="#FFE6E6"/>
<rect x="454.22" y="1442.92" width="27.1" height="27.3" fill="#FFD4D4"/>
<rect x="516.66" y="1442.92" width="27.1" height="27.3" fill="#FFE0E0"/>
<rect x="547.88" y="1442.92" width="27.1" height="27.3" fill="#FFFCFC"/>
<rect x="266.9" y="1474.58" width="27.1" height="27.3" fill="#F75959"/>
<rect x="298.12" y="1474.58" width="27.1" height="27.3" fill="#FFD1D1"/>
<rect x="329.34" y="1474.58" width="27.1" height="27.3" fill="#FFCCCC"/>
<rect x="360.56" y="1474.58" width="27.1" height="27.3" fill="#FFBDBD"/>
<rect x="391.78" y="1474.58" width="27.1" height="27.3" fill="#FFD6D6"/>
<rect x="423" y="1474.58" width="27.1" height="27.3" fill="#FFF2F2"/>
<rect x="454.22" y="1474.58" width="27.1" height="27.3" fill="#FFD6D6"/>
<rect x="485.44" y="1474.58" width="27.1" height="27.3" fill="#FFF5F5"/>
<rect x="516.66" y="1474.58" width="27.1" height="27.3" fill="#FFFAFA"/>
<rect x="547.88" y="1474.58" width="27.1" height="27.3" fill="#FFEBEB"/>
<rect x="266.9" y="1506.24" width="27.1" height="27.3" fill="#F65252"/>
<rect x="298.12" y="1506.24" width="27.1" height="27.3" fill="#FFCCCC"/>
<rect x="329.34" y="1506.24" width="27.1" height="27.3" fill="#FFDEDE"/>
<rect x="391.78" y="1506.24" width="27.1" height="27.3" fill="#FFEBEB"/>
<rect x="423" y="1506.24" width="27.1" height="27.3" fill="#FFF2F2"/>
<rect x="454.22" y="1506.24" width="27.1" height="27.3" fill="#FFBABA"/>
<rect x="485.44" y="1506.24" width="27.1" height="27.3" fill="#FFDEDE"/>
<rect x="547.88" y="1506.24" width="27.1" height="27.3" fill="#FFBABA"/>
<rect x="266.9" y="1537.9" width="27.1" height="27.3" fill="#F54747"/>
<rect x="298.12" y="1537.9" width="27.1" height="27.3" fill="#FFB2B2"/>
<rect x="329.34" y="1537.9" width="27.1" height="27.3" fill="#FFADAD"/>
<rect x="360.56" y="1537.9" width="27.1" height="27.3" fill="#FFEBEB"/>
<rect x="391.78" y="1537.9" width="27.1" height="27.3" fill="#FFDEDE"/>
<rect x="423" y="1537.9" width="27.1" height="27.3" fill="#FFE6E6"/>
<rect x="454.22" y="1537.9" width="27.1" height="27.3" fill="#FFEBEB"/>
<rect x="516.66" y="1537.9" width="27.1" height="27.3" fill="#FFE6E6"/>
<rect x="547.88" y="1537.9" width="27.1" height="27.3" fill="#FFFAFA"/>
<rect x="266.9" y="1569.56" width="27.1" height="27.3" fill="#FA7070"/>
<rect x="298.12" y="1569.56" width="27.1" height="27.3" fill="#FFBFBF"/>
<rect x="329.34" y="1569.56" width="27.1" height="27.3" fill="#FFD9D9"/>
<rect x="360.56" y="1569.56" width="27.1" height="27.3" fill="#FFD9D9"/>
<rect x="391.78" y="1569.56" width="27.1" height="27.3" fill="#FFCCCC"/>
<rect x="423" y="1569.56" width="27.1" height="27.3" fill="#FFCCCC"/>
<rect x="454.22" y="1569.56" width="27.1" height="27.3" fill="#FFE6E6"/>
<rect x="516.66" y="1569.56" width="27.1" height="27.3" fill="#FFBFBF"/>
<rect x="266.9" y="1601.22" width="27.1" height="27.3" fill="#FC8787"/>
<rect x="298.12" y="1601.22" width="27.1" height="27.3" fill="#FFA6A6"/>
<rect x="329.34" y="1601.22" width="27.1" height="27.3" fill="#FFD1D1"/>
<rect x="360.56" y="1601.22" width="27.1" height="27.3" fill="#FFD9D9"/>
<rect x="391.78" y="1601.22" width="27.1" height="27.3" fill="#FFABAB"/>
<rect x="423" y="1601.22" width="27.1" height="27.3" fill="#FFDEDE"/>
<rect x="454.22" y="1601.22" width="27.1" height="27.3" fill="#FFD9D9"/>
<rect x="485.44" y="1601.22" width="27.1" height="27.3" fill="#FFFCFC"/>
<rect x="516.66" y="1601.22" width="27.1" height="27.3" fill="#FFEDED"/>
<rect x="547.88" y="1601.22" width="27.1" height="27.3" fill="#FFF2F2"/>
<rect x="266.9" y="1632.88" width="27.1" height="27.3" fill="#FC8787"/>
<rect x="298.12" y="1632.88" width="27.1" height="27.3" fill="#FEA1A1"/>
<rect x="329.34" y="1632.88" width="27.1" height="27.3" fill="#FFD4D4"/>
<rect x="360.56" y="1632.88" width="27.1" height="27.3" fill="#FFCCCC"/>
<rect x="391.78" y="1632.88" width="27.1" height="27.3" fill="#FFE6E6"/>
<rect x="423" y="1632.88" width="27.1" height="27.3" fill="#FFD9D9"/>
<rect x="454.22" y="1632.88" width="27.1" height="27.3" fill="#FFBFBF"/>
<rect x="516.66" y="1632.88" width="27.1" height="27.3" fill="#FFEDED"/>
<rect x="547.88" y="1632.88" width="27.1" height="27.3" fill="#FFEDED"/>
</g>
<rect x="584.8" y="275.33" width="12.4" height="19.8" fill="#808080" stroke="#000" stroke-width="1.8"/>
<rect x="584.8" y="306.99" width="2.9" height="19.8" fill="#808080" stroke="#000" stroke-width="1.8"/>
<rect x="584.8" y="338.65" width="13.8" height="19.8" fill="#808080" stroke="#000" stroke-width="1.8"/>
<rect x="584.8" y="370.31" width="38" height="19.8" fill="#808080" stroke="#000" stroke-width="1.8"/>
<rect x="584.8" y="401.97" width="19.8" height="19.8" fill="#808080" stroke="#000" stroke-width="1.8"/>
<rect x="584.8" y="433.63" width="26.1" height="19.8" fill="#808080" stroke="#000" stroke-width="1.8"/>
<rect x="584.8" y="465.29" width="28.5" height="19.8" fill="#808080" stroke="#000" stroke-width="1.8"/>
<rect x="584.8" y="496.95" width="6.1" height="19.8" fill="#808080" stroke="#000" stroke-width="1.8"/>
<rect x="584.8" y="528.61" width="3.2" height="19.8" fill="#808080" stroke="#000" stroke-width="1.8"/>
<rect x="584.8" y="560.27" width="43.6" height="19.8" fill="#808080" stroke="#000" stroke-width="1.8"/>
<rect x="584.8" y="591.93" width="31.7" height="19.8" fill="#808080" stroke="#000" stroke-width="1.8"/>
<rect x="584.8" y="623.59" width="3.6" height="19.8" fill="#808080" stroke="#000" stroke-width="1.8"/>
<rect x="584.8" y="655.25" width="33.4" height="19.8" fill="#808080" stroke="#000" stroke-width="1.8"/>
<rect x="584.8" y="686.91" width="34.8" height="19.8" fill="#808080" stroke="#000" stroke-width="1.8"/>
<rect x="584.8" y="718.57" width="40.8" height="19.8" fill="#808080" stroke="#000" stroke-width="1.8"/>
<rect x="584.8" y="750.23" width="69.6" height="19.8" fill="#808080" stroke="#000" stroke-width="1.8"/>
<rect x="584.8" y="781.89" width="36.9" height="19.8" fill="#808080" stroke="#000" stroke-width="1.8"/>
<rect x="584.8" y="813.55" width="3.2" height="19.8" fill="#808080" stroke="#000" stroke-width="1.8"/>
<rect x="584.8" y="845.21" width="16.6" height="19.8" fill="#808080" stroke="#000" stroke-width="1.8"/>
<rect x="584.8" y="876.87" width="6.4" height="19.8" fill="#808080" stroke="#000" stroke-width="1.8"/>
<rect x="584.8" y="908.53" width="12.7" height="19.8" fill="#808080" stroke="#000" stroke-width="1.8"/>
<rect x="584.8" y="940.19" width="7.5" height="19.8" fill="#808080" stroke="#000" stroke-width="1.8"/>
<rect x="584.8" y="971.85" width="3.2" height="19.8" fill="#808080" stroke="#000" stroke-width="1.8"/>
<rect x="584.8" y="1003.51" width="14.8" height="19.8" fill="#808080" stroke="#000" stroke-width="1.8"/>
<rect x="584.8" y="1035.17" width="13.8" height="19.8" fill="#808080" stroke="#000" stroke-width="1.8"/>
<rect x="584.8" y="1066.83" width="22.2" height="19.8" fill="#808080" stroke="#000" stroke-width="1.8"/>
<rect x="584.8" y="1098.49" width="6.1" height="19.8" fill="#808080" stroke="#000" stroke-width="1.8"/>
<rect x="584.8" y="1130.15" width="1.9" height="19.8" fill="#808080" stroke="#000" stroke-width="1.8"/>
<rect x="584.8" y="1161.81" width="4" height="19.8" fill="#808080" stroke="#000" stroke-width="1.8"/>
<rect x="584.8" y="1193.47" width="14.5" height="19.8" fill="#808080" stroke="#000" stroke-width="1.8"/>
<rect x="584.8" y="1225.13" width="19.8" height="19.8" fill="#808080" stroke="#000" stroke-width="1.8"/>
<rect x="584.8" y="1256.79" width="10.3" height="19.8" fill="#808080" stroke="#000" stroke-width="1.8"/>
<rect x="584.8" y="1288.45" width="14.8" height="19.8" fill="#808080" stroke="#000" stroke-width="1.8"/>
<rect x="584.8" y="1320.11" width="12.4" height="19.8" fill="#808080" stroke="#000" stroke-width="1.8"/>
<rect x="584.8" y="1351.77" width="3.6" height="19.8" fill="#808080" stroke="#000" stroke-width="1.8"/>
<rect x="584.8" y="1383.43" width="16.2" height="19.8" fill="#808080" stroke="#000" stroke-width="1.8"/>
<rect x="584.8" y="1415.09" width="1.2" height="19.8" fill="#808080" stroke="#000" stroke-width="1.8"/>
<rect x="584.8" y="1446.75" width="9.6" height="19.8" fill="#808080" stroke="#000" stroke-width="1.8"/>
<rect x="584.8" y="1478.41" width="3.2" height="19.8" fill="#808080" stroke="#000" stroke-width="1.8"/>
<rect x="584.8" y="1510.07" width="1.5" height="19.8" fill="#808080" stroke="#000" stroke-width="1.8"/>
<rect x="584.8" y="1541.73" width="9.6" height="19.8" fill="#808080" stroke="#000" stroke-width="1.8"/>
<rect x="584.8" y="1573.39" width="15.6" height="19.8" fill="#808080" stroke="#000" stroke-width="1.8"/>
<rect x="584.8" y="1605.05" width="5.7" height="19.8" fill="#808080" stroke="#000" stroke-width="1.8"/>
<rect x="584.8" y="1636.71" width="14.5" height="19.8" fill="#808080" stroke="#000" stroke-width="1.8"/>
<rect x="584.8" y="269.4" width="73.1" height="1393.04" fill="none" stroke="#000" stroke-width="2.0"/>
<path d="M585 1662.44V1670.74" stroke="#000" stroke-width="2.0"/>
<text transform="translate(592.5 1677.6) rotate(-90)" font-size="21.4" text-anchor="end">0</text>
<path d="M602.9 1662.44V1670.74" stroke="#000" stroke-width="2.0"/>
<text transform="translate(610.4 1677.6) rotate(-90)" font-size="21.4" text-anchor="end">500</text>
<path d="M620.8 1662.44V1670.74" stroke="#000" stroke-width="2.0"/>
<text transform="translate(628.3 1677.6) rotate(-90)" font-size="21.4" text-anchor="end">1000</text>
<path d="M638.7 1662.44V1670.74" stroke="#000" stroke-width="2.0"/>
<text transform="translate(646.2 1677.6) rotate(-90)" font-size="21.4" text-anchor="end">1500</text>
<path d="M656.6 1662.44V1670.74" stroke="#000" stroke-width="2.0"/>
<text transform="translate(664.1 1677.6) rotate(-90)" font-size="21.4" text-anchor="end">2000</text>
<text x="620.8" y="1753.9" font-size="27.7" text-anchor="middle">cells</text>
<path d="M66.95 877.5V1023.3" stroke="#8a8a8a" stroke-width="1.9"/>
<path d="M88.2 335.94H36V746.42H44.9M131.2 285.23H88.2V386.64H97.2M131.2 316.89H97.2V456.39H105.8M111.9 378.23H105.8V534.55H110.8M131.2 348.55H111.9V407.91H117.4M131.2 380.21H117.4V435.62H119.9M131.2 411.87H119.9V459.36H121.7M131.2 443.53H121.7V475.19H131.2M131.2 506.85H110.8V562.25H115.2M131.2 538.51H115.2V586H123.3M131.2 570.17H123.3V601.83H131.2M131.2 633.49H44.9V859.35H65.2M74.4 694.83H65.2V1023.86H68.7M131.2 665.15H74.4V724.51H98.6M131.2 696.81H98.6V752.22H103.3M131.2 728.47H103.3V775.96H118.6M131.2 760.13H118.6V791.79H131.2M94.7 876.88H68.7V1170.84H80.1M111.9 839.28H94.7V914.47H104.9M131.2 823.45H111.9V855.11H131.2M131.2 886.77H104.9V942.17H108.1M131.2 918.43H108.1V965.92H110.5M131.2 950.09H110.5V981.75H131.2M107.7 1029.24H80.1V1312.45H91M131.2 1013.41H107.7V1045.07H131.2M99.9 1143.51H91V1481.38H97.5M115.2 1092.56H99.9V1194.47H104.1M131.2 1076.73H115.2V1108.39H131.2M113.6 1155.88H104.1V1233.05H106.4M131.2 1140.05H113.6V1171.71H131.2M131.2 1203.37H106.4V1262.73H113.1M131.2 1235.03H113.1V1290.43H116.3M131.2 1266.69H116.3V1314.18H120.5M131.2 1298.35H120.5V1330.01H131.2M108 1413.12H97.5V1549.65H103.5M116 1377.5H108V1448.73H113M131.2 1361.67H116V1393.33H131.2M131.2 1424.99H113V1472.48H118.3M131.2 1456.65H118.3V1488.31H131.2M131.2 1519.97H103.5V1579.33H109.2M131.2 1551.63H109.2V1607.03H115.2M131.2 1583.29H115.2V1630.78H117.4M131.2 1614.95H117.4V1646.61H131.2" fill="none" stroke="#000" stroke-width="2.0" stroke-linejoin="miter"/>
<text transform="translate(163.9 1668.9) rotate(-90)" font-size="25" text-anchor="end" font-weight="bold">Immune SDI</text>
<text transform="translate(205.2 1668.9) rotate(-90)" font-size="25" text-anchor="end" font-weight="bold">HR status</text>
<text transform="translate(246.6 1668.9) rotate(-90)" font-size="25" text-anchor="end" font-weight="bold">PFI</text>
<text transform="translate(289.8 1668.9) rotate(-90)" font-size="25.25" text-anchor="end">IBA1+CD163+ Macrophages</text>
<text transform="translate(321.02 1668.9) rotate(-90)" font-size="25.25" text-anchor="end">CD8+ T−cells</text>
<text transform="translate(352.24 1668.9) rotate(-90)" font-size="25.25" text-anchor="end">CD11c+APC</text>
<text transform="translate(383.46 1668.9) rotate(-90)" font-size="25.25" text-anchor="end">IBA1+CD11c+ Macrophages</text>
<text transform="translate(414.68 1668.9) rotate(-90)" font-size="25.25" text-anchor="end">IBA1+CD163+CD11c+ Macrophages</text>
<text transform="translate(445.9 1668.9) rotate(-90)" font-size="25.25" text-anchor="end">FOXP3+CD4+ T−regs</text>
<text transform="translate(477.12 1668.9) rotate(-90)" font-size="25.25" text-anchor="end">CD4+ T-cells</text>
<text transform="translate(508.34 1668.9) rotate(-90)" font-size="25.25" text-anchor="end">B−cells</text>
<text transform="translate(539.56 1668.9) rotate(-90)" font-size="25.25" text-anchor="end">IBA1+ Macrophages</text>
<text transform="translate(570.78 1668.9) rotate(-90)" font-size="25.25" text-anchor="end">CD163+ Macrophages</text>
</g>
<g id="legends">
<defs><linearGradient id="gr" x1="0" y1="0" x2="0" y2="1"><stop offset="0" stop-color="#EE0000"/><stop offset="0.03" stop-color="#EE0000"/><stop offset="1" stop-color="#FFFFFF"/></linearGradient><linearGradient id="gp" x1="0" y1="0" x2="0" y2="1"><stop offset="0" stop-color="#8B668B"/><stop offset="0.03" stop-color="#8B668B"/><stop offset="0.97" stop-color="#FFE1FF"/><stop offset="1" stop-color="#FFE1FF"/></linearGradient></defs>
<text x="796.7" y="61.3" font-size="23.6" font-weight="bold">Immune subtype</text>
<text x="796.7" y="91.2" font-size="23.6" font-weight="bold">% per patient</text>
<rect x="798" y="100.5" width="29" height="103" fill="url(#gr)"/>
<path d="M798 103.8h5.6M821.4 103.8h5.6" stroke="#fff" stroke-width="1.3"/>
<text x="833" y="112.4" font-size="23">60</text>
<path d="M798 137.4h5.6M821.4 137.4h5.6" stroke="#fff" stroke-width="1.3"/>
<text x="833" y="146" font-size="23">40</text>
<path d="M798 170.8h5.6M821.4 170.8h5.6" stroke="#fff" stroke-width="1.3"/>
<text x="833" y="179.4" font-size="23">20</text>
<path d="M798 204.4h5.6M821.4 204.4h5.6" stroke="#fff" stroke-width="1.3"/>
<text x="833" y="213" font-size="23">0</text>
<text x="804.7" y="273.1" font-size="23.6" font-weight="bold">HR status</text>
<rect x="804.7" y="286.9" width="24.8" height="24.8" fill="#4169E1"/>
<text x="838" y="308.2" font-size="23">BRCA1</text>
<rect x="804.7" y="313.9" width="24.8" height="24.8" fill="#5D069E"/>
<text x="838" y="335.2" font-size="23">BRCA2</text>
<rect x="804.7" y="340.7" width="24.8" height="24.8" fill="#CD0000"/>
<text x="838" y="362" font-size="23">HRwt</text>
<text x="1015.6" y="64.2" font-size="23.6" font-weight="bold">PFI</text>
<rect x="1015.3" y="75.1" width="24.8" height="24.8" fill="#3399CC"/>
<text x="1048.1" y="96.6" font-size="23">long</text>
<rect x="1015.3" y="101.9" width="24.8" height="24.8" fill="#003366"/>
<text x="1048.1" y="123.4" font-size="23">short</text>
<text x="1015.6" y="221" font-size="23.6" font-weight="bold">Immune SDI</text>
<rect x="1014.2" y="230.1" width="29" height="135.9" fill="url(#gp)"/>
<path d="M1014.2 233.7h5.6M1037.6 233.7h5.6" stroke="#fff" stroke-width="1.3"/>
<text x="1048.7" y="242" font-size="23">0.8</text>
<path d="M1014.2 265.4h5.6M1037.6 265.4h5.6" stroke="#fff" stroke-width="1.3"/>
<text x="1048.7" y="273.7" font-size="23">0.7</text>
<path d="M1014.2 297.1h5.6M1037.6 297.1h5.6" stroke="#fff" stroke-width="1.3"/>
<text x="1048.7" y="305.4" font-size="23">0.6</text>
<path d="M1014.2 329.4h5.6M1037.6 329.4h5.6" stroke="#fff" stroke-width="1.3"/>
<text x="1048.7" y="337.7" font-size="23">0.5</text>
<path d="M1014.2 361.9h5.6M1037.6 361.9h5.6" stroke="#fff" stroke-width="1.3"/>
<text x="1048.7" y="370.2" font-size="23">0.4</text>
</g>
<g id="panel-b">
<text x="1210.7" y="31" font-size="43">b</text>
<text x="1260.58" y="51.25" font-size="20.65" text-anchor="end" fill="#4D4D4D">15</text>
<text x="1260.58" y="167.39" font-size="20.65" text-anchor="end" fill="#4D4D4D">10</text>
<text x="1260.58" y="282.91" font-size="20.65" text-anchor="end" fill="#4D4D4D">5</text>
<text x="1260.58" y="398.75" font-size="20.65" text-anchor="end" fill="#4D4D4D">0</text>
<path d="M1263.72 43.95H1266.86M1263.72 160.09H1266.86M1263.72 275.61H1266.86M1263.72 391.45H1266.86M1374.85 397.1V400.55M1555.66 397.1V400.55" stroke="#333" stroke-width="1.3" fill="none"/>
<text x="1374.22" y="419.04" font-size="20.65" text-anchor="middle" fill="#4D4D4D">BRCA1/2mut</text>
<text x="1555.66" y="419.04" font-size="20.65" text-anchor="middle" fill="#4D4D4D">HRwt</text>
<text x="1465.25" y="441.64" font-size="20.65" text-anchor="middle">HR status</text>
<text transform="translate(1229.19 201.53) rotate(-90)" font-size="20.65" text-anchor="middle">Macrophages (%)</text>
<path d="M1374.85 24.17V163.23M1374.85 305.43V379.2" stroke="#333" stroke-width="3.6" fill="none"/>
<rect x="1308.47" y="164.03" width="134.01" height="140.6" fill="#8FA9E4" stroke="#333" stroke-width="3.6" stroke-linejoin="round"/>
<path d="M1309.47 268.71H1441.48" stroke="#333" stroke-width="3.6"/>
<path d="M1555.66 274.04V300.41M1555.66 340.59V376.69" stroke="#333" stroke-width="3.6" fill="none"/>
<rect x="1488.66" y="301.21" width="134.32" height="38.58" fill="#F93D6B" stroke="#333" stroke-width="3.6" stroke-linejoin="round"/>
<path d="M1489.66 330.55H1621.98" stroke="#333" stroke-width="3.6"/>
<g fill="#000"><circle cx="1360.41" cy="23.86" r="3.6"/><circle cx="1349.73" cy="113.32" r="3.6"/><circle cx="1362.92" cy="115.2" r="3.6"/><circle cx="1388.35" cy="110.5" r="3.6"/><circle cx="1385.83" cy="115.52" r="3.6"/><circle cx="1385.21" cy="129.33" r="3.6"/><circle cx="1395.57" cy="126.82" r="3.6"/><circle cx="1347.54" cy="142.52" r="3.6"/><circle cx="1390.86" cy="184.27" r="3.6"/><circle cx="1365.12" cy="215.34" r="3.6"/><circle cx="1388.66" cy="218.17" r="3.6"/><circle cx="1372.34" cy="228.21" r="3.6"/><circle cx="1381.44" cy="260.86" r="3.6"/><circle cx="1361.98" cy="265.25" r="3.6"/><circle cx="1361.35" cy="268.71" r="3.6"/><circle cx="1375.79" cy="269.02" r="3.6"/><circle cx="1404.98" cy="269.65" r="3.6"/><circle cx="1394.62" cy="284.4" r="3.6"/><circle cx="1344.71" cy="303.24" r="3.6"/><circle cx="1353.19" cy="304.49" r="3.6"/><circle cx="1357.58" cy="305.75" r="3.6"/><circle cx="1377.67" cy="306.06" r="3.6"/><circle cx="1390.23" cy="304.18" r="3.6"/><circle cx="1404.98" cy="304.49" r="3.6"/><circle cx="1393.68" cy="328.35" r="3.6"/><circle cx="1366.69" cy="333.37" r="3.6"/><circle cx="1389.6" cy="341.53" r="3.6"/><circle cx="1355.39" cy="366.65" r="3.6"/><circle cx="1357.58" cy="371.04" r="3.6"/><circle cx="1365.43" cy="373.24" r="3.6"/><circle cx="1403.73" cy="379.83" r="3.6"/><circle cx="1530.23" cy="188.35" r="3.6"/><circle cx="1587.68" cy="192.11" r="3.6"/><circle cx="1529.29" cy="273.73" r="3.6"/><circle cx="1551.27" cy="300.73" r="3.6"/><circle cx="1544.99" cy="307" r="3.6"/><circle cx="1547.18" cy="328.04" r="3.6"/><circle cx="1535.57" cy="340.91" r="3.6"/><circle cx="1577.63" cy="332.43" r="3.6"/><circle cx="1584.54" cy="330.55" r="3.6"/><circle cx="1580.14" cy="337.77" r="3.6"/><circle cx="1578.58" cy="352.21" r="3.6"/><circle cx="1571.67" cy="361.94" r="3.6"/><circle cx="1562.88" cy="377.32" r="3.6"/></g>
<rect x="1266.86" y="6.28" width="396.78" height="390.82" fill="none" stroke="#000" stroke-width="1.6"/>
<text x="1439.2" y="23.94" font-size="17.9">Wilcoxon, p = 0.027</text>
<text x="1441.71" y="44.98" font-size="17.9">r = 0.34</text>
</g>
<g id="panel-c">
<text x="707.4" y="439" font-size="43">c</text>
<text x="777.07" y="466.82" font-size="20.65" text-anchor="end" fill="#4D4D4D">40</text>
<text x="777.07" y="557.99" font-size="20.65" text-anchor="end" fill="#4D4D4D">30</text>
<text x="777.07" y="648.84" font-size="20.65" text-anchor="end" fill="#4D4D4D">20</text>
<text x="777.07" y="740.01" font-size="20.65" text-anchor="end" fill="#4D4D4D">10</text>
<text x="777.07" y="830.86" font-size="20.65" text-anchor="end" fill="#4D4D4D">0</text>
<path d="M780.2 459.52H783.33M780.2 550.69H783.33M780.2 641.54H783.33M780.2 732.71H783.33M780.2 823.56H783.33M890.48 842.67V846.12M1074.37 842.67V846.12" stroke="#333" stroke-width="1.3" fill="none"/>
<text x="896.27" y="864.26" font-size="20.65" text-anchor="middle" fill="#4D4D4D">BRCA1/2mut</text>
<text x="1072.18" y="864.26" font-size="20.65" text-anchor="middle" fill="#4D4D4D">HRwt</text>
<text x="981.48" y="886.82" font-size="20.65" text-anchor="middle">HR status</text>
<text transform="translate(745.43 647.49) rotate(-90)" font-size="20.65" text-anchor="middle">CD11c+ APC (%)</text>
<path d="M891.1 691.98V756.2M891.1 807.89V825.13" stroke="#333" stroke-width="3.6" fill="none"/>
<rect x="823.92" y="757" width="134.68" height="50.09" fill="#8FA9E4" stroke="#333" stroke-width="3.6" stroke-linejoin="round"/>
<path d="M824.92 798.5H957.6" stroke="#333" stroke-width="3.6"/>
<path d="M1072.18 571.99V651.57M1072.18 762.78V813.53" stroke="#333" stroke-width="3.6" fill="none"/>
<rect x="1004.06" y="652.37" width="135.93" height="109.62" fill="#F93D6B" stroke="#333" stroke-width="3.6" stroke-linejoin="round"/>
<path d="M1005.06 717.36H1138.99" stroke="#333" stroke-width="3.6"/>
<g fill="#000"><circle cx="876.69" cy="469.55" r="3.6"/><circle cx="893.92" cy="675.06" r="3.6"/><circle cx="861.03" cy="691.98" r="3.6"/><circle cx="902.38" cy="706.7" r="3.6"/><circle cx="865.1" cy="722.37" r="3.6"/><circle cx="900.81" cy="736.78" r="3.6"/><circle cx="862.28" cy="744.3" r="3.6"/><circle cx="924.94" cy="753.38" r="3.6"/><circle cx="908.33" cy="760.28" r="3.6"/><circle cx="910.84" cy="768.42" r="3.6"/><circle cx="916.17" cy="775" r="3.6"/><circle cx="904.57" cy="795.05" r="3.6"/><circle cx="884.52" cy="795.99" r="3.6"/><circle cx="856.64" cy="797.87" r="3.6"/><circle cx="926.19" cy="799.44" r="3.6"/><circle cx="865.41" cy="802.57" r="3.6"/><circle cx="884.21" cy="801" r="3.6"/><circle cx="918.36" cy="805.39" r="3.6"/><circle cx="857.27" cy="806.95" r="3.6"/><circle cx="871.99" cy="807.58" r="3.6"/><circle cx="884.21" cy="808.21" r="3.6"/><circle cx="894.86" cy="807.58" r="3.6"/><circle cx="921.49" cy="818.55" r="3.6"/><circle cx="871.68" cy="816.04" r="3.6"/><circle cx="883.9" cy="817.29" r="3.6"/><circle cx="856.95" cy="822.31" r="3.6"/><circle cx="918.67" cy="823.25" r="3.6"/><circle cx="896.43" cy="825.75" r="3.6"/><circle cx="1103.2" cy="474.25" r="3.6"/><circle cx="1105.08" cy="571.99" r="3.6"/><circle cx="1045.86" cy="625.88" r="3.6"/><circle cx="1045.86" cy="652.51" r="3.6"/><circle cx="1100.38" cy="656.58" r="3.6"/><circle cx="1091.92" cy="697.93" r="3.6"/><circle cx="1066.23" cy="717.67" r="3.6"/><circle cx="1037.09" cy="724.87" r="3.6"/><circle cx="1092.54" cy="752.44" r="3.6"/><circle cx="1081.58" cy="762.78" r="3.6"/><circle cx="1049.94" cy="787.53" r="3.6"/><circle cx="1087.84" cy="786.59" r="3.6"/><circle cx="1062.16" cy="813.22" r="3.6"/></g>
<rect x="783.33" y="452.63" width="396.62" height="390.04" fill="none" stroke="#000" stroke-width="1.6"/>
<text x="794.61" y="505.35" font-size="17.9">Wilcoxon, p = 0.0013</text>
<text x="795.55" y="531.35" font-size="17.9">r = 0.47</text>
</g>
<g id="panel-d">
<text x="1211.6" y="447" font-size="43">d</text>
<text x="1259.64" y="563.31" font-size="20.65" text-anchor="end" fill="#4D4D4D">20</text>
<text x="1259.64" y="701.12" font-size="20.65" text-anchor="end" fill="#4D4D4D">10</text>
<text x="1259.64" y="838.93" font-size="20.65" text-anchor="end" fill="#4D4D4D">0</text>
<path d="M1262.78 556.01H1265.92M1262.78 693.82H1265.92M1262.78 831.63H1265.92M1374.22 848.26V851.72M1554.72 848.26V851.72" stroke="#333" stroke-width="1.3" fill="none"/>
<text x="1373.28" y="870.52" font-size="20.65" text-anchor="middle" fill="#4D4D4D">BRCA1/2mut</text>
<text x="1555.03" y="870.52" font-size="20.65" text-anchor="middle" fill="#4D4D4D">HRwt</text>
<text x="1464.31" y="892.81" font-size="20.65" text-anchor="middle">HR status</text>
<text transform="translate(1228.25 652.7) rotate(-90)" font-size="20.65" text-anchor="middle">IBA1+CD163+CD11c+ macrophages (%)</text>
<path d="M1374.22 640.77V727.09M1374.22 796.78V831" stroke="#333" stroke-width="4.2" fill="none"/>
<rect x="1306.89" y="728.19" width="134.35" height="67.49" fill="#8FA9E4" stroke="#333" stroke-width="4.2" stroke-linejoin="round"/>
<path d="M1307.89 787.05H1440.24" stroke="#333" stroke-width="8"/>
<path d="M1554.72 529.96V644.85M1554.72 745.3V767.27" stroke="#333" stroke-width="4.2" fill="none"/>
<rect x="1487.39" y="645.95" width="135.29" height="98.25" fill="#F93D6B" stroke="#333" stroke-width="4.2" stroke-linejoin="round"/>
<path d="M1488.39 680.01H1621.68" stroke="#333" stroke-width="8"/>
<g fill="#000"><circle cx="1365.43" cy="522.74" r="2.3"/><circle cx="1357.58" cy="597.45" r="2.3"/><circle cx="1356.95" cy="604.67" r="2.3"/><circle cx="1394.94" cy="640.77" r="2.3"/><circle cx="1384.58" cy="668.39" r="2.3"/><circle cx="1382.7" cy="674.67" r="2.3"/><circle cx="1396.19" cy="689.42" r="2.3"/><circle cx="1374.85" cy="718.62" r="2.3"/><circle cx="1349.11" cy="736.2" r="2.3"/><circle cx="1383.95" cy="752.52" r="2.3"/><circle cx="1403.41" cy="760.05" r="2.3"/><circle cx="1365.43" cy="768.22" r="2.3"/><circle cx="1345.03" cy="770.1" r="2.3"/><circle cx="1346.91" cy="781.09" r="2.3"/><circle cx="1360.09" cy="785.48" r="2.3"/><circle cx="1356.95" cy="787.05" r="2.3"/><circle cx="1388.66" cy="786.74" r="2.3"/><circle cx="1387.72" cy="790.5" r="2.3"/><circle cx="1345.65" cy="790.19" r="2.3"/><circle cx="1346.91" cy="792.7" r="2.3"/><circle cx="1349.11" cy="793.33" r="2.3"/><circle cx="1386.15" cy="795.21" r="2.3"/><circle cx="1368.26" cy="797.1" r="2.3"/><circle cx="1350.99" cy="798.35" r="2.3"/><circle cx="1340.32" cy="816.87" r="2.3"/><circle cx="1385.21" cy="813.73" r="2.3"/><circle cx="1396.19" cy="813.42" r="2.3"/><circle cx="1404.67" cy="824.41" r="2.3"/><circle cx="1402.79" cy="826.29" r="2.3"/><circle cx="1408.12" cy="831" r="2.3"/><circle cx="1524.27" cy="474.71" r="2.3"/><circle cx="1570.41" cy="529.96" r="2.3"/><circle cx="1524.9" cy="585.83" r="2.3"/><circle cx="1563.51" cy="645.48" r="2.3"/><circle cx="1581.71" cy="658.03" r="2.3"/><circle cx="1573.87" cy="659.29" r="2.3"/><circle cx="1590.19" cy="680.01" r="2.3"/><circle cx="1533.69" cy="709.52" r="2.3"/><circle cx="1572.3" cy="712.65" r="2.3"/><circle cx="1562.88" cy="744.99" r="2.3"/><circle cx="1584.54" cy="753.15" r="2.3"/><circle cx="1523.95" cy="758.8" r="2.3"/><circle cx="1585.48" cy="767.27" r="2.3"/></g>
<rect x="1265.92" y="457.45" width="396.47" height="390.82" fill="none" stroke="#000" stroke-width="1.2"/>
<text x="1275.34" y="475.11" font-size="17.9">Wilcoxon, p = 0.00067</text>
<text x="1278.48" y="500.85" font-size="17.9">r = 0.49</text>
</g>
<g id="panel-e">
<text x="706.8" y="914" font-size="43">e</text>
<text x="777.69" y="938.7" font-size="20.65" text-anchor="end" fill="#4D4D4D">20</text>
<text x="777.69" y="1028.93" font-size="20.65" text-anchor="end" fill="#4D4D4D">15</text>
<text x="777.69" y="1119.47" font-size="20.65" text-anchor="end" fill="#4D4D4D">10</text>
<text x="777.69" y="1209.69" font-size="20.65" text-anchor="end" fill="#4D4D4D">5</text>
<text x="777.69" y="1300.23" font-size="20.65" text-anchor="end" fill="#4D4D4D">0</text>
<path d="M780.83 931.4H783.96M780.83 1021.63H783.96M780.83 1112.17H783.96M780.83 1202.39H783.96M780.83 1292.93H783.96M887.97 1310.16V1313.61M1068.11 1310.16V1313.61" stroke="#333" stroke-width="1.3" fill="none"/>
<text x="902.38" y="1332.69" font-size="20.65" text-anchor="middle" fill="#4D4D4D">BRCA1/2mut</text>
<text x="1072.81" y="1332.69" font-size="20.65" text-anchor="middle" fill="#4D4D4D">HRwt</text>
<text x="977.73" y="1355.25" font-size="20.65" text-anchor="middle">HR status</text>
<text transform="translate(746.05 1111.85) rotate(-90)" font-size="20.65" text-anchor="middle">CD8 T−cell/IBA1+CD163+CD11c+ macrophage ratio</text>
<path d="M891.73 1018.81V1163.86M891.73 1262.54V1289.17" stroke="#333" stroke-width="3.6" fill="none"/>
<rect x="824.55" y="1164.66" width="134.68" height="97.08" fill="#8FA9E4" stroke="#333" stroke-width="3.6" stroke-linejoin="round"/>
<path d="M825.55 1229.34H958.23" stroke="#333" stroke-width="3.6"/>
<path d="M1072.81 1197.69V1247.19M1072.81 1284.16V1292.93" stroke="#333" stroke-width="3.6" fill="none"/>
<rect x="1004.68" y="1247.99" width="135.62" height="35.37" fill="#F93D6B" stroke="#333" stroke-width="3.6" stroke-linejoin="round"/>
<path d="M1005.68 1276.33H1139.3" stroke="#333" stroke-width="3.6"/>
<g fill="#000"><circle cx="919.61" cy="917.93" r="3.7"/><circle cx="888.91" cy="967.74" r="3.7"/><circle cx="896.12" cy="1018.18" r="3.7"/><circle cx="892.98" cy="1095.88" r="3.7"/><circle cx="915.54" cy="1131.28" r="3.7"/><circle cx="905.2" cy="1154.46" r="3.7"/><circle cx="912.41" cy="1155.4" r="3.7"/><circle cx="861.65" cy="1161.35" r="3.7"/><circle cx="921.18" cy="1165.43" r="3.7"/><circle cx="892.04" cy="1172.63" r="3.7"/><circle cx="892.04" cy="1183.28" r="3.7"/><circle cx="887.34" cy="1195.81" r="3.7"/><circle cx="886.72" cy="1199.57" r="3.7"/><circle cx="904.26" cy="1199.57" r="3.7"/><circle cx="922.74" cy="1227.77" r="3.7"/><circle cx="880.76" cy="1231.84" r="3.7"/><circle cx="894.24" cy="1242.18" r="3.7"/><circle cx="884.52" cy="1251.58" r="3.7"/><circle cx="861.65" cy="1256.9" r="3.7"/><circle cx="887.97" cy="1256.9" r="3.7"/><circle cx="897.68" cy="1260.04" r="3.7"/><circle cx="886.72" cy="1261.6" r="3.7"/><circle cx="896.74" cy="1266.3" r="3.7"/><circle cx="858.21" cy="1268.5" r="3.7"/><circle cx="869.8" cy="1274.14" r="3.7"/><circle cx="894.24" cy="1274.14" r="3.7"/><circle cx="900.5" cy="1279.77" r="3.7"/><circle cx="903.63" cy="1284.47" r="3.7"/><circle cx="882.33" cy="1289.49" r="3.7"/><circle cx="1102.26" cy="1197.38" r="3.7"/><circle cx="1065.91" cy="1221.19" r="3.7"/><circle cx="1095.05" cy="1244.69" r="3.7"/><circle cx="1043.05" cy="1248.13" r="3.7"/><circle cx="1096.93" cy="1260.04" r="3.7"/><circle cx="1097.56" cy="1272.26" r="3.7"/><circle cx="1052.44" cy="1276.02" r="3.7"/><circle cx="1041.48" cy="1279.77" r="3.7"/><circle cx="1043.98" cy="1283.53" r="3.7"/><circle cx="1058.71" cy="1286.67" r="3.7"/><circle cx="1095.05" cy="1284.79" r="3.7"/></g>
<rect x="783.96" y="914.17" width="396.62" height="395.99" fill="none" stroke="#000" stroke-width="1.6"/>
<text x="957.52" y="931.49" font-size="17.9">Wilcoxon, p = 0.0043</text>
<text x="957.52" y="955.61" font-size="17.9">r = 0.46</text>
</g>
<g id="panel-f">
<text x="1213.8" y="923" font-size="43">f</text>
<text x="1259.64" y="974.61" font-size="20.65" text-anchor="end" fill="#4D4D4D">0.8</text>
<text x="1259.64" y="1048.07" font-size="20.65" text-anchor="end" fill="#4D4D4D">0.7</text>
<text x="1259.64" y="1121.21" font-size="20.65" text-anchor="end" fill="#4D4D4D">0.6</text>
<text x="1259.64" y="1194.66" font-size="20.65" text-anchor="end" fill="#4D4D4D">0.5</text>
<text x="1259.64" y="1268.12" font-size="20.65" text-anchor="end" fill="#4D4D4D">0.4</text>
<path d="M1271.89 967.31H1275.34M1271.89 1040.77H1275.34M1271.89 1113.91H1275.34M1271.89 1187.36H1275.34M1271.89 1260.82H1275.34M1382.07 1304.77V1308.22M1560.37 1304.77V1308.22" stroke="#333" stroke-width="1.3" fill="none"/>
<text x="1389.6" y="1327.34" font-size="20.65" text-anchor="middle" fill="#4D4D4D">BRCA1/2mut</text>
<text x="1551.89" y="1327.34" font-size="20.65" text-anchor="middle" fill="#4D4D4D">HRwt</text>
<text x="1471.06" y="1350.25" font-size="20.65" text-anchor="middle">HR status</text>
<text transform="translate(1223.54 1109.2) rotate(-90)" font-size="20.65" text-anchor="middle">Immune SDI</text>
<path d="M1373.59 931.84V969.82M1373.59 1083.14V1154.09" stroke="#333" stroke-width="3.6" fill="none"/>
<rect x="1307.53" y="970.62" width="132.44" height="111.72" fill="#8FA9E4" stroke="#333" stroke-width="3.6" stroke-linejoin="round"/>
<path d="M1308.53 1008.12H1438.97" stroke="#333" stroke-width="3.6"/>
<path d="M1551.89 935.29V945.97M1551.89 974.53V982.38" stroke="#333" stroke-width="3.6" fill="none"/>
<rect x="1485.52" y="946.77" width="132.75" height="26.97" fill="#F93D6B" stroke="#333" stroke-width="3.6" stroke-linejoin="round"/>
<path d="M1486.52 963.23H1617.27" stroke="#333" stroke-width="3.6"/>
<g fill="#000"><circle cx="1367.94" cy="931.21" r="3.9"/><circle cx="1351.62" cy="942.2" r="3.9"/><circle cx="1369.2" cy="943.14" r="3.9"/><circle cx="1392.74" cy="946.28" r="3.9"/><circle cx="1340.95" cy="960.72" r="3.9"/><circle cx="1382.7" cy="964.49" r="3.9"/><circle cx="1367" cy="966.37" r="3.9"/><circle cx="1367.31" cy="969.82" r="3.9"/><circle cx="1385.83" cy="969.51" r="3.9"/><circle cx="1347.54" cy="971.08" r="3.9"/><circle cx="1344.71" cy="978.61" r="3.9"/><circle cx="1343.46" cy="982.38" r="3.9"/><circle cx="1342.2" cy="985.2" r="3.9"/><circle cx="1381.75" cy="979.87" r="3.9"/><circle cx="1361.35" cy="989.91" r="3.9"/><circle cx="1366.06" cy="1008.43" r="3.9"/><circle cx="1374.85" cy="1018.17" r="3.9"/><circle cx="1385.83" cy="1020.36" r="3.9"/><circle cx="1356.01" cy="1031.98" r="3.9"/><circle cx="1360.72" cy="1040.45" r="3.9"/><circle cx="1408.12" cy="1042.96" r="3.9"/><circle cx="1398.39" cy="1065.25" r="3.9"/><circle cx="1400.59" cy="1071.53" r="3.9"/><circle cx="1360.72" cy="1094.13" r="3.9"/><circle cx="1365.43" cy="1097.27" r="3.9"/><circle cx="1376.42" cy="1099.78" r="3.9"/><circle cx="1341.57" cy="1104.8" r="3.9"/><circle cx="1349.73" cy="1126.78" r="3.9"/><circle cx="1387.4" cy="1142.47" r="3.9"/><circle cx="1337.81" cy="1154.09" r="3.9"/><circle cx="1351.3" cy="1287.81" r="3.9"/><circle cx="1521.76" cy="935.29" r="3.9"/><circle cx="1540.91" cy="937.49" r="3.9"/><circle cx="1570.1" cy="941.26" r="3.9"/><circle cx="1538.08" cy="946.28" r="3.9"/><circle cx="1578.26" cy="957.89" r="3.9"/><circle cx="1561.31" cy="962.92" r="3.9"/><circle cx="1550.95" cy="970.45" r="3.9"/><circle cx="1553.78" cy="972.65" r="3.9"/><circle cx="1564.14" cy="977.67" r="3.9"/><circle cx="1521.76" cy="982.69" r="3.9"/><circle cx="1544.36" cy="1078.75" r="3.9"/></g>
<rect x="1267.49" y="914.89" width="390.82" height="389.88" fill="none" stroke="#000" stroke-width="2"/>
<text x="1433.23" y="1264.98" font-size="17.9">Wilcoxon, p = 0.0053</text>
<text x="1435.43" y="1287.9" font-size="17.9">r = 0.41</text>
</g>
<g id="panel-g">
<text x="707.5" y="1427" font-size="43">g</text>
<text x="990.38" y="1391.82" font-size="22.1" text-anchor="middle">All</text>
<text x="985.1" y="1418.02" font-size="22.1" text-anchor="middle">CD8+ T-cells and PFI</text>
<text x="761.9" y="1451.08" font-size="17.6" text-anchor="end" fill="#4D4D4D">1.00</text>
<text x="761.9" y="1528.73" font-size="17.6" text-anchor="end" fill="#4D4D4D">0.75</text>
<text x="761.9" y="1606.06" font-size="17.6" text-anchor="end" fill="#4D4D4D">0.50</text>
<text x="761.9" y="1683.39" font-size="17.6" text-anchor="end" fill="#4D4D4D">0.25</text>
<text x="761.9" y="1760.72" font-size="17.6" text-anchor="end" fill="#4D4D4D">0.00</text>
<text x="786.18" y="1788.16" font-size="17.8" text-anchor="middle" fill="#4D4D4D">0</text>
<text x="860.32" y="1788.16" font-size="17.8" text-anchor="middle" fill="#4D4D4D">400</text>
<text x="934.77" y="1788.16" font-size="17.8" text-anchor="middle" fill="#4D4D4D">800</text>
<text x="1009.23" y="1788.16" font-size="17.8" text-anchor="middle" fill="#4D4D4D">1200</text>
<text x="1083.68" y="1788.16" font-size="17.8" text-anchor="middle" fill="#4D4D4D">1600</text>
<text x="1158.14" y="1788.16" font-size="17.8" text-anchor="middle" fill="#4D4D4D">2000</text>
<path d="M764.45 1444.68H768.29M764.45 1522.33H768.29M764.45 1599.66H768.29M764.45 1676.99H768.29M764.45 1754.32H768.29M786.18 1768.38V1771.98M860.32 1768.38V1771.98M934.77 1768.38V1771.98M1009.23 1768.38V1771.98M1083.68 1768.38V1771.98M1158.14 1768.38V1771.98" stroke="#333" stroke-width="1.3" fill="none"/>
<text x="972.48" y="1811.16" font-size="22.3" text-anchor="middle">PFI(days)</text>
<text transform="translate(718.12 1599.34) rotate(-90)" font-size="22.3" text-anchor="middle">Proportion surviving</text>
<clipPath id="clip-g"><rect x="768.29" y="1429.66" width="407.58" height="338.72"/></clipPath>
<g clip-path="url(#clip-g)">
<rect x="778.83" y="1713.1" width="19.81" height="43.14" fill="#F2F2F2"/>
<path d="M781.07 1723.33H797.05" stroke="#A856F5" stroke-width="4.2"/>
<path d="M789.06 1718.83V1727.83" stroke="#A856F5" stroke-width="1.6"/>
<path d="M781.07 1744.42H797.05" stroke="#F6602A" stroke-width="4.2"/>
<path d="M789.06 1739.92V1748.92" stroke="#F6602A" stroke-width="1.6"/>
<path d="M786.18 1444.68L789.7 1444.68L789.7 1459.06L790.98 1459.06L790.98 1472.48L796.41 1472.48L796.41 1486.86L808.87 1486.86L808.87 1500.92L814.62 1500.92L814.62 1516.58L821.02 1516.58L821.02 1531.6L826.45 1531.6L826.45 1547.58L828.36 1547.58L828.36 1562.91L834.76 1562.91L834.76 1578.89L837.31 1578.89L837.31 1595.51L859.36 1595.51L859.36 1610.85L860.96 1610.85L860.96 1658.78L861.92 1658.78L861.92 1673.16L886.52 1673.16L886.52 1675.39L894.51 1675.39L894.51 1690.09L1176.35 1690.09" fill="none" stroke="#A856F5" stroke-width="4.6" stroke-linejoin="round"/>
<path d="M786.18 1444.68L821.02 1444.68L821.02 1459.06L822.61 1459.06L822.61 1472.48L849.77 1472.48L849.77 1486.86L861.92 1486.86L861.92 1500.92L876.94 1500.92L876.94 1517.54L888.12 1517.54L888.12 1533.52L922.63 1533.52L922.63 1550.45L931.9 1550.45L931.9 1567.71L936.05 1567.71L936.05 1584.32L960.66 1584.32L960.66 1601.26L1096.47 1601.26L1096.47 1618.2L1105.41 1618.2L1105.41 1635.13L1176.35 1635.13" fill="none" stroke="#F6602A" stroke-width="4.6" stroke-linejoin="round"/>
<path d="M803.59 1484.62h8M807.59 1480.62v8M821.17 1530h8M825.17 1526v8M949.63 1688.5h8M953.63 1684.5v8M960.17 1688.5h8M964.17 1684.5v8" fill="none" stroke="#1EC8FF" stroke-width="1.7"/>
<path d="M847.37 1486.22h8M851.37 1482.22v8M868.78 1499h8M872.78 1495v8M888.91 1532.56h8M892.91 1528.56v8" fill="none" stroke="#F0905A" stroke-width="1.2"/>
</g>
<text x="809.83" y="1731.64" font-size="22.3">low %</text>
<text x="809.83" y="1753.05" font-size="22.3">high %</text>
<rect x="768.29" y="1429.66" width="407.58" height="338.72" fill="none" stroke="#000" stroke-width="2"/>
<text x="1042.46" y="1459.16" font-size="20.2" class="dv" textLength="80.53" lengthAdjust="spacingAndGlyphs">p = 0.015</text>
<text x="1041.5" y="1483.13" font-size="20.2" class="dv" textLength="99.06" lengthAdjust="spacingAndGlyphs">HR = 0.27</text>
<text x="1041.5" y="1507.09" font-size="20.2" class="dv" textLength="125.58" lengthAdjust="spacingAndGlyphs">(0.11 - 0.63)</text>
<text x="972.32" y="1838.96" font-size="22.3" text-anchor="middle">Number at risk</text>
<text x="786.18" y="1863.15" font-size="18.1" text-anchor="middle" letter-spacing="-1.3">22</text>
<text x="786.18" y="1878.81" font-size="18.1" text-anchor="middle" letter-spacing="-1.3">22</text>
<text x="786.18" y="1901.6" font-size="17.8" text-anchor="middle" fill="#4D4D4D">0</text>
<text x="860.32" y="1863.15" font-size="18.1" text-anchor="middle">9</text>
<text x="860.32" y="1878.81" font-size="18.1" text-anchor="middle" letter-spacing="-1.3">18</text>
<text x="860.32" y="1901.6" font-size="17.8" text-anchor="middle" fill="#4D4D4D">400</text>
<text x="934.77" y="1863.15" font-size="18.1" text-anchor="middle">4</text>
<text x="934.77" y="1878.81" font-size="18.1" text-anchor="middle" letter-spacing="-1.3">11</text>
<text x="934.77" y="1901.6" font-size="17.8" text-anchor="middle" fill="#4D4D4D">800</text>
<text x="1009.23" y="1863.15" font-size="18.1" text-anchor="middle">2</text>
<text x="1009.23" y="1878.81" font-size="18.1" text-anchor="middle">9</text>
<text x="1009.23" y="1901.6" font-size="17.8" text-anchor="middle" fill="#4D4D4D">1200</text>
<text x="1083.68" y="1863.15" font-size="18.1" text-anchor="middle">2</text>
<text x="1083.68" y="1878.81" font-size="18.1" text-anchor="middle">9</text>
<text x="1083.68" y="1901.6" font-size="17.8" text-anchor="middle" fill="#4D4D4D">1600</text>
<text x="1158.14" y="1863.15" font-size="18.1" text-anchor="middle">2</text>
<text x="1158.14" y="1878.81" font-size="18.1" text-anchor="middle">7</text>
<text x="1158.14" y="1901.6" font-size="17.8" text-anchor="middle" fill="#4D4D4D">2000</text>
<path d="M786.18 1883.42V1886.94M860.32 1883.42V1886.94M934.77 1883.42V1886.94M1009.23 1883.42V1886.94M1083.68 1883.42V1886.94M1158.14 1883.42V1886.94" stroke="#333" stroke-width="1.3" fill="none"/>
<rect x="768.29" y="1845.08" width="408.06" height="38.35" fill="none" stroke="#000" stroke-width="2.6"/>
<path d="M732.18 1857.54H758.7" stroke="#A856F5" stroke-width="5"/>
<path d="M732.18 1870.32H758.7" stroke="#F2763E" stroke-width="5"/>
<text x="972.48" y="1924.6" font-size="22.3" text-anchor="middle">PFI(days)</text>
</g>
<g id="panel-h">
<text x="1210.5" y="1436" font-size="43">h</text>
<text x="1508.95" y="1398.85" font-size="22.1" text-anchor="middle">BRCA1/2mut</text>
<text x="1504.48" y="1425.37" font-size="22.1" text-anchor="middle">CD4+ T-cells and PFI</text>
<text x="1285.59" y="1458.43" font-size="17.6" text-anchor="end" fill="#4D4D4D">1.00</text>
<text x="1285.59" y="1535.76" font-size="17.6" text-anchor="end" fill="#4D4D4D">0.75</text>
<text x="1285.59" y="1613.09" font-size="17.6" text-anchor="end" fill="#4D4D4D">0.50</text>
<text x="1285.59" y="1690.42" font-size="17.6" text-anchor="end" fill="#4D4D4D">0.25</text>
<text x="1285.59" y="1767.75" font-size="17.6" text-anchor="end" fill="#4D4D4D">0.00</text>
<text x="1309.87" y="1795.83" font-size="17.8" text-anchor="middle" fill="#4D4D4D">0</text>
<text x="1384.01" y="1795.83" font-size="17.8" text-anchor="middle" fill="#4D4D4D">400</text>
<text x="1458.14" y="1795.83" font-size="17.8" text-anchor="middle" fill="#4D4D4D">800</text>
<text x="1532.6" y="1795.83" font-size="17.8" text-anchor="middle" fill="#4D4D4D">1200</text>
<text x="1606.73" y="1795.83" font-size="17.8" text-anchor="middle" fill="#4D4D4D">1600</text>
<text x="1680.87" y="1795.83" font-size="17.8" text-anchor="middle" fill="#4D4D4D">2000</text>
<path d="M1288.14 1452.03H1291.98M1288.14 1529.36H1291.98M1288.14 1606.69H1291.98M1288.14 1684.02H1291.98M1288.14 1761.35H1291.98M1309.87 1775.73V1779.33M1384.01 1775.73V1779.33M1458.14 1775.73V1779.33M1532.6 1775.73V1779.33M1606.73 1775.73V1779.33M1680.87 1775.73V1779.33" stroke="#333" stroke-width="1.3" fill="none"/>
<text x="1495.85" y="1818.19" font-size="22.3" text-anchor="middle">PFI(days)</text>
<text transform="translate(1237.33 1607.97) rotate(-90)" font-size="22.3" text-anchor="middle">Proportion surviving</text>
<clipPath id="clip-h"><rect x="1291.98" y="1437.01" width="407.11" height="338.72"/></clipPath>
<g clip-path="url(#clip-h)">
<rect x="1302.52" y="1721.09" width="19.81" height="42.18" fill="#F2F2F2"/>
<path d="M1304.76 1730.68H1320.74" stroke="#A856F5" stroke-width="4.2"/>
<path d="M1312.75 1726.18V1735.18" stroke="#A856F5" stroke-width="1.6"/>
<path d="M1304.76 1752.09H1320.74" stroke="#F6602A" stroke-width="4.2"/>
<path d="M1312.75 1747.59V1756.59" stroke="#F6602A" stroke-width="1.6"/>
<path d="M1309.87 1452.03L1344.38 1452.03L1344.38 1490.38L1346.3 1490.38L1346.3 1509.55L1352.37 1509.55L1352.37 1528.72L1358.44 1528.72L1358.44 1548.53L1361 1548.53L1361 1568.35L1373.46 1568.35L1373.46 1587.52L1384.33 1587.52L1384.33 1606.69L1385.29 1606.69L1385.29 1645.04L1446 1645.04L1446 1664.53L1454.63 1664.53L1454.63 1684.02L1483.71 1684.02L1483.71 1703.52L1699.08 1703.52" fill="none" stroke="#A856F5" stroke-width="4.6" stroke-linejoin="round"/>
<path d="M1309.87 1452.03L1400.62 1452.03L1400.62 1475.68L1411.49 1475.68L1411.49 1499.64L1418.52 1499.64L1418.52 1523.61L1460.06 1523.61L1460.06 1546.94L1619.83 1546.94L1619.83 1573.46L1628.78 1573.46L1628.78 1600.62L1699.08 1600.62" fill="none" stroke="#F6602A" stroke-width="4.6" stroke-linejoin="round"/>
<path d="M1483.54 1702.24h8M1487.54 1698.24v8" fill="none" stroke="#1EC8FF" stroke-width="1.7"/>
<path d="M1371.38 1450.11h8M1375.38 1446.11v8M1392.47 1450.11h8M1396.47 1446.11v8M1473.64 1545.34h8M1477.64 1541.34v8" fill="none" stroke="#F0905A" stroke-width="1.2"/>
</g>
<text x="1333.52" y="1739.3" font-size="22.3">low %</text>
<text x="1333.52" y="1760.39" font-size="22.3">high %</text>
<rect x="1291.98" y="1437.01" width="407.11" height="338.72" fill="none" stroke="#000" stroke-width="2"/>
<text x="1568.07" y="1463.32" font-size="20.2" class="dv" textLength="89.47" lengthAdjust="spacingAndGlyphs">p = 0.0011</text>
<text x="1567.11" y="1489.52" font-size="20.2" class="dv" textLength="76.05" lengthAdjust="spacingAndGlyphs">HR 0.19</text>
<text x="1567.11" y="1512.85" font-size="20.2" class="dv" textLength="111.2" lengthAdjust="spacingAndGlyphs">(0.05-0.66)</text>
<text x="1495.85" y="1846.31" font-size="22.3" text-anchor="middle">Number at risk</text>
<text x="1309.87" y="1870.82" font-size="18.1" text-anchor="middle" letter-spacing="-1.3">16</text>
<text x="1309.87" y="1886.16" font-size="18.1" text-anchor="middle" letter-spacing="-1.3">15</text>
<text x="1309.87" y="1909.27" font-size="17.8" text-anchor="middle" fill="#4D4D4D">0</text>
<text x="1384.01" y="1870.82" font-size="18.1" text-anchor="middle">9</text>
<text x="1384.01" y="1886.16" font-size="18.1" text-anchor="middle" letter-spacing="-1.3">14</text>
<text x="1384.01" y="1909.27" font-size="17.8" text-anchor="middle" fill="#4D4D4D">400</text>
<text x="1458.14" y="1870.82" font-size="18.1" text-anchor="middle">4</text>
<text x="1458.14" y="1886.16" font-size="18.1" text-anchor="middle" letter-spacing="-1.3">10</text>
<text x="1458.14" y="1909.27" font-size="17.8" text-anchor="middle" fill="#4D4D4D">800</text>
<text x="1532.6" y="1870.82" font-size="18.1" text-anchor="middle">2</text>
<text x="1532.6" y="1886.16" font-size="18.1" text-anchor="middle">8</text>
<text x="1532.6" y="1909.27" font-size="17.8" text-anchor="middle" fill="#4D4D4D">1200</text>
<text x="1606.73" y="1870.82" font-size="18.1" text-anchor="middle">2</text>
<text x="1606.73" y="1886.16" font-size="18.1" text-anchor="middle">8</text>
<text x="1606.73" y="1909.27" font-size="17.8" text-anchor="middle" fill="#4D4D4D">1600</text>
<text x="1680.87" y="1870.82" font-size="18.1" text-anchor="middle">2</text>
<text x="1680.87" y="1886.16" font-size="18.1" text-anchor="middle">6</text>
<text x="1680.87" y="1909.27" font-size="17.8" text-anchor="middle" fill="#4D4D4D">2000</text>
<path d="M1309.87 1890.45V1893.97M1384.01 1890.45V1893.97M1458.14 1890.45V1893.97M1532.6 1890.45V1893.97M1606.73 1890.45V1893.97M1680.87 1890.45V1893.97" stroke="#333" stroke-width="1.3" fill="none"/>
<rect x="1291.98" y="1852.74" width="407.11" height="37.71" fill="none" stroke="#000" stroke-width="2.6"/>
<path d="M1255.87 1864.89H1282.71" stroke="#A856F5" stroke-width="5"/>
<path d="M1255.87 1877.03H1282.71" stroke="#F2763E" stroke-width="5"/>
<text x="1495.85" y="1931.63" font-size="22.3" text-anchor="middle">PFI(days)</text>
</g>
<g id="panel-i">
<text x="706.1" y="1980" font-size="43">i</text>
<path d="M778.83 1955.66H810.79" stroke="#0000FF" stroke-width="5.3"/>
<text x="794.51" y="1965.26" font-size="25" font-style="italic" text-anchor="middle" fill="#0000FF">a</text>
<text x="829" y="1963.97" font-size="22.9">BRCA1/2mut</text>
<path d="M978.55 1955.66H1010.51" stroke="#FF0000" stroke-width="5.3"/>
<text x="994.23" y="1965.26" font-size="25" font-style="italic" text-anchor="middle" fill="#FF0000">a</text>
<text x="1028.08" y="1963.97" font-size="22.9">HRwt</text>
<path d="M1103.18 1955.66H1135.13" stroke="#000000" stroke-width="5.3"/>
<text x="1118.85" y="1965.26" font-size="25" font-style="italic" text-anchor="middle" fill="#000000">a</text>
<text x="1154.94" y="1963.97" font-size="22.9">All</text>
<text transform="translate(751.21 2003.91) rotate(-90)" font-size="18.2" text-anchor="middle">80</text>
<text transform="translate(751.21 2097.22) rotate(-90)" font-size="18.2" text-anchor="middle">60</text>
<text transform="translate(751.21 2190.85) rotate(-90)" font-size="18.2" text-anchor="middle">40</text>
<text transform="translate(751.21 2284.15) rotate(-90)" font-size="18.2" text-anchor="middle">20</text>
<text transform="translate(751.21 2377.14) rotate(-90)" font-size="18.2" text-anchor="middle">0</text>
<text x="821.02" y="2425.66" font-size="18.2" text-anchor="middle">0.4</text>
<text x="898.35" y="2425.66" font-size="18.2" text-anchor="middle">0.5</text>
<text x="975.68" y="2425.66" font-size="18.2" text-anchor="middle">0.6</text>
<text x="1053.01" y="2425.66" font-size="18.2" text-anchor="middle">0.7</text>
<text x="1130.34" y="2425.66" font-size="18.2" text-anchor="middle">0.8</text>
<path d="M766.69 2003.91H776.92M766.69 2097.22H776.92M766.69 2190.85H776.92M766.69 2284.15H776.92M766.69 2377.14H776.92M821.02 2385.77V2396.32M898.35 2385.77V2396.32M975.68 2385.77V2396.32M1053.01 2385.77V2396.32M1130.34 2385.77V2396.32" stroke="#000" stroke-width="1.5" fill="none"/>
<text x="985.58" y="2453.83" font-size="22.8" text-anchor="middle">Immune SDI</text>
<text transform="translate(733.14 2195.64) rotate(-90)" font-size="22.9" text-anchor="middle">IBA1+CD163+ macrophages</text>
<g fill="#0000FF"><circle cx="792.26" cy="2013.18" r="4.2"/><circle cx="933.5" cy="2079.64" r="4.2"/><circle cx="961.94" cy="2104.89" r="4.2"/><circle cx="985.58" cy="2103.61" r="4.2"/><circle cx="996.77" cy="2115.75" r="4.2"/><circle cx="993.57" cy="2122.78" r="4.2"/><circle cx="1020.73" cy="2133.97" r="4.2"/><circle cx="1026.8" cy="2146.75" r="4.2"/><circle cx="1053.33" cy="2166.24" r="4.2"/><circle cx="1074.42" cy="2182.22" r="4.2"/><circle cx="1086.88" cy="2186.69" r="4.2"/><circle cx="990.7" cy="2223.12" r="4.2"/><circle cx="1117.24" cy="2209.06" r="4.2"/><circle cx="1127.78" cy="2229.51" r="4.2"/><circle cx="1111.8" cy="2249.64" r="4.2"/><circle cx="1118.83" cy="2250.28" r="4.2"/><circle cx="1130.98" cy="2263.7" r="4.2"/><circle cx="1133.53" cy="2265.3" r="4.2"/><circle cx="1138.01" cy="2263.38" r="4.2"/><circle cx="1152.39" cy="2259.23" r="4.2"/><circle cx="1155.9" cy="2256.35" r="4.2"/><circle cx="1157.5" cy="2258.27" r="4.2"/><circle cx="1128.1" cy="2276.8" r="4.2"/><circle cx="1106.37" cy="2283.83" r="4.2"/><circle cx="1145.36" cy="2277.12" r="4.2"/><circle cx="945.64" cy="2289.59" r="4.2"/><circle cx="1061.95" cy="2297.89" r="4.2"/><circle cx="1126.5" cy="2320.58" r="4.2"/><circle cx="1168.05" cy="2328.57" r="4.2"/><circle cx="1076.65" cy="2345.51" r="4.2"/><circle cx="1114.04" cy="2348.7" r="4.2"/><circle cx="1050.45" cy="2371.71" r="4.2"/></g>
<g fill="#FF0000"><circle cx="1013.06" cy="2134.61" r="4.2"/><circle cx="1114.04" cy="2192.44" r="4.2"/><circle cx="1122.99" cy="2198.2" r="4.2"/><circle cx="1123.95" cy="2213.21" r="4.2"/><circle cx="1126.18" cy="2233.35" r="4.2"/><circle cx="1134.17" cy="2244.85" r="4.2"/><circle cx="1152.71" cy="2276.8" r="4.2"/><circle cx="1163.89" cy="2278.72" r="4.2"/><circle cx="1135.13" cy="2290.86" r="4.2"/><circle cx="1157.82" cy="2309.08" r="4.2"/><circle cx="1161.33" cy="2323.46" r="4.2"/><circle cx="1119.47" cy="2336.56" r="4.2"/><circle cx="1140.24" cy="2366.28" r="4.2"/></g>
<path d="M798.65 1999.76C815.16 2010.57 873.21 2049.02 897.71 2064.62C922.21 2080.23 932.32 2084.6 945.64 2093.38C958.95 2102.17 966.94 2107.76 977.59 2117.35C988.25 2126.94 998.9 2139.45 1009.55 2150.9C1020.2 2162.35 1028.19 2172.21 1041.5 2186.05C1054.82 2199.9 1076.12 2221.2 1089.44 2233.98C1102.75 2246.77 1109.67 2253.16 1121.39 2262.74C1133.11 2272.33 1153.35 2286.71 1159.74 2291.5" fill="none" stroke="#0000FF" stroke-width="2.5" stroke-dasharray="10 8"/>
<path d="M1013.06 2134.61C1015.67 2135.99 1018.66 2137 1028.72 2142.91C1038.79 2148.83 1059.24 2161.82 1073.46 2170.08C1087.68 2178.33 1106.32 2186.59 1114.04 2192.44C1121.76 2198.3 1117.77 2199.37 1119.79 2205.23C1121.82 2211.08 1123.26 2219.61 1126.18 2227.59C1129.11 2235.58 1133.37 2244.1 1137.37 2253.16C1141.36 2262.21 1146.69 2273.4 1150.15 2281.92C1153.61 2290.44 1156.28 2297.36 1158.14 2304.29C1160 2311.21 1160.8 2320.26 1161.33 2323.46" fill="none" stroke="#FF0000" stroke-width="2.5" stroke-dasharray="10 8"/>
<path d="M798.65 1999.76C815.16 2010.3 870.55 2046.09 897.71 2063.03C924.87 2079.96 945.64 2091.25 961.62 2101.37C977.59 2111.49 980.26 2111.76 993.57 2123.74C1006.89 2135.72 1025.53 2155.96 1041.5 2173.27C1057.48 2190.58 1076.12 2213.21 1089.44 2227.59C1102.75 2241.97 1109.67 2248.9 1121.39 2259.55C1133.11 2270.2 1153.35 2286.18 1159.74 2291.5" fill="none" stroke="#000000" stroke-width="2.5" stroke-dasharray="10 8"/>
<rect x="776.92" y="1998.64" width="406.27" height="387.13" fill="none" stroke="#000" stroke-width="2.5"/>
<text x="787.46" y="2322.5" font-size="17.8" fill="#1F46FF">R = - 0.56, p = 0.0014</text>
<text x="787.46" y="2346.79" font-size="17.8" fill="#FF1A1A">R = - 0.62 ,p = 0.027</text>
<text x="787.46" y="2370.43" font-size="17.8" fill="#000">R = - 0.58, p = 5.2e-05</text>
</g>
<g id="panel-j">
<text x="1215.3" y="1980" font-size="43">j</text>
<path d="M1290.06 1960.52H1322.02" stroke="#0000FF" stroke-width="5.3"/>
<circle cx="1304.74" cy="1963.82" r="5.2" fill="#0000FF"/>
<text x="1305.74" y="1970.12" font-size="25" font-style="italic" text-anchor="middle" fill="#0000FF">a</text>
<text x="1340.23" y="1969.72" font-size="22.9">BRCA1/2mut</text>
<path d="M1489.14 1960.52H1521.09" stroke="#FF0000" stroke-width="5.3"/>
<circle cx="1503.82" cy="1963.82" r="5.2" fill="#FF0000"/>
<text x="1504.82" y="1970.12" font-size="25" font-style="italic" text-anchor="middle" fill="#FF0000">a</text>
<text x="1539.31" y="1969.72" font-size="22.9">HRwt</text>
<text x="1634.18" y="1967.72" font-size="26" text-anchor="middle" fill="#000000">a</text>
<path d="M1614.4 1961.12H1646.36" stroke="#000000" stroke-width="5.1"/>
<text x="1666.17" y="1969.72" font-size="22.9">All</text>
<text transform="translate(1268.19 2028.83) rotate(-90)" font-size="18.2" text-anchor="middle">25</text>
<text transform="translate(1268.19 2097.86) rotate(-90)" font-size="18.2" text-anchor="middle">20</text>
<text transform="translate(1268.19 2167.2) rotate(-90)" font-size="18.2" text-anchor="middle">15</text>
<text transform="translate(1268.19 2236.22) rotate(-90)" font-size="18.2" text-anchor="middle">10</text>
<text transform="translate(1268.19 2305.24) rotate(-90)" font-size="18.2" text-anchor="middle">5</text>
<text transform="translate(1268.19 2374.59) rotate(-90)" font-size="18.2" text-anchor="middle">0</text>
<text x="1337.35" y="2428.21" font-size="18.2" text-anchor="middle">0.4</text>
<text x="1414.68" y="2428.21" font-size="18.2" text-anchor="middle">0.5</text>
<text x="1492.02" y="2428.21" font-size="18.2" text-anchor="middle">0.6</text>
<text x="1569.35" y="2428.21" font-size="18.2" text-anchor="middle">0.7</text>
<text x="1647" y="2428.21" font-size="18.2" text-anchor="middle">0.8</text>
<path d="M1283.03 2028.83H1293.58M1283.03 2097.86H1293.58M1283.03 2167.2H1293.58M1283.03 2236.22H1293.58M1283.03 2305.24H1293.58M1283.03 2374.59H1293.58M1337.35 2388.97V2399.51M1414.68 2388.97V2399.51M1492.02 2388.97V2399.51M1569.35 2388.97V2399.51M1647 2388.97V2399.51" stroke="#000" stroke-width="1.5" fill="none"/>
<text x="1497.29" y="2457.03" font-size="22.8" text-anchor="middle">Immune SDI</text>
<text transform="translate(1244.68 2197.56) rotate(-90)" font-size="22.9" text-anchor="middle">IBA1+CD163+CD11c+ macrophages</text>
<g fill="#0000FF"><circle cx="1308.91" cy="2333.36" r="4.2"/><circle cx="1449.83" cy="2329.85" r="4.2"/><circle cx="1461.98" cy="2359.89" r="4.2"/><circle cx="1478.59" cy="2356.69" r="4.2"/><circle cx="1501.92" cy="2328.25" r="4.2"/><circle cx="1507.35" cy="2356.37" r="4.2"/><circle cx="1509.91" cy="2261.15" r="4.2"/><circle cx="1512.79" cy="2334" r="4.2"/><circle cx="1536.75" cy="2330.17" r="4.2"/><circle cx="1543.14" cy="2182.86" r="4.2"/><circle cx="1567.11" cy="2370.11" r="4.2"/><circle cx="1569.67" cy="2311.32" r="4.2"/><circle cx="1578.61" cy="2367.88" r="4.2"/><circle cx="1590.76" cy="2337.84" r="4.2"/><circle cx="1592.99" cy="2336.56" r="4.2"/><circle cx="1603.22" cy="2278.4" r="4.2"/><circle cx="1623.03" cy="2312.91" r="4.2"/><circle cx="1627.82" cy="2336.56" r="4.2"/><circle cx="1630.7" cy="2341.67" r="4.2"/><circle cx="1633.26" cy="2146.75" r="4.2"/><circle cx="1634.53" cy="2374.27" r="4.2"/><circle cx="1642.52" cy="2303.01" r="4.2"/><circle cx="1643.8" cy="2231.75" r="4.2"/><circle cx="1644.44" cy="2217.37" r="4.2"/><circle cx="1647.32" cy="2340.08" r="4.2"/><circle cx="1649.87" cy="2335.28" r="4.2"/><circle cx="1653.71" cy="2323.78" r="4.2"/><circle cx="1668.73" cy="2064.3" r="4.2"/><circle cx="1672.56" cy="2295.02" r="4.2"/><circle cx="1673.52" cy="2139.72" r="4.2"/><circle cx="1684.7" cy="2210.66" r="4.2"/></g>
<g fill="#FF0000"><circle cx="1642.84" cy="2016.05" r="4.2"/><circle cx="1677.67" cy="2071.65" r="4.2"/><circle cx="1669.05" cy="2127.58" r="4.2"/><circle cx="1640.61" cy="2187.65" r="4.2"/><circle cx="1635.81" cy="2200.75" r="4.2"/><circle cx="1674.48" cy="2202.03" r="4.2"/><circle cx="1656.9" cy="2222.8" r="4.2"/><circle cx="1529.4" cy="2251.88" r="4.2"/><circle cx="1639.33" cy="2255.08" r="4.2"/><circle cx="1650.51" cy="2287.99" r="4.2"/><circle cx="1651.47" cy="2295.66" r="4.2"/><circle cx="1680.23" cy="2301.73" r="4.2"/><circle cx="1630.38" cy="2310.36" r="4.2"/></g>
<path d="M1308.91 2343.27C1326.54 2342.26 1386.4 2338.64 1414.68 2337.2C1442.96 2335.76 1462.62 2335.6 1478.59 2334.64C1494.57 2333.68 1499.9 2333.58 1510.55 2331.45C1521.2 2329.32 1531.85 2325.32 1542.5 2321.86C1553.16 2318.4 1563.81 2314.4 1574.46 2310.68C1585.11 2306.95 1595.76 2302.95 1606.41 2299.49C1617.07 2296.03 1625.16 2294.01 1638.37 2289.91C1651.58 2285.81 1677.78 2277.39 1685.66 2274.89" fill="none" stroke="#0000FF" stroke-width="2.5" stroke-dasharray="10 8"/>
<path d="M1529.4 2251.88L1631.98 2246.13L1651.15 2218.01L1681.51 2179.66" fill="none" stroke="#FF0000" stroke-width="2.5" stroke-dasharray="10 8"/>
<path d="M1308.91 2348.38C1326.54 2346.52 1386.4 2340.18 1414.68 2337.2C1442.96 2334.22 1462.62 2332.51 1478.59 2330.49C1494.57 2328.46 1499.9 2328.09 1510.55 2325.06C1521.2 2322.02 1531.85 2317.07 1542.5 2312.27C1553.16 2307.48 1563.81 2301.89 1574.46 2296.3C1585.11 2290.7 1595.76 2284.58 1606.41 2278.72C1617.07 2272.86 1625.16 2268.34 1638.37 2261.15C1651.58 2253.96 1677.78 2239.84 1685.66 2235.58" fill="none" stroke="#000000" stroke-width="2.5" stroke-dasharray="10 8"/>
<rect x="1293.58" y="2001.83" width="406.02" height="387.13" fill="none" stroke="#000" stroke-width="2.9"/>
<text x="1309.23" y="2024.68" font-size="17.8" fill="#0000FF">R = 0.42, p = 0.019</text>
<text x="1309.23" y="2048.65" font-size="17.8" fill="#FF0000">R = 0.16, p = 0.60</text>
<text x="1309.23" y="2071.02" font-size="17.8" fill="#000">R = 0.55, p = 0.00014</text>
</g>
</svg>
</body>
</html>
